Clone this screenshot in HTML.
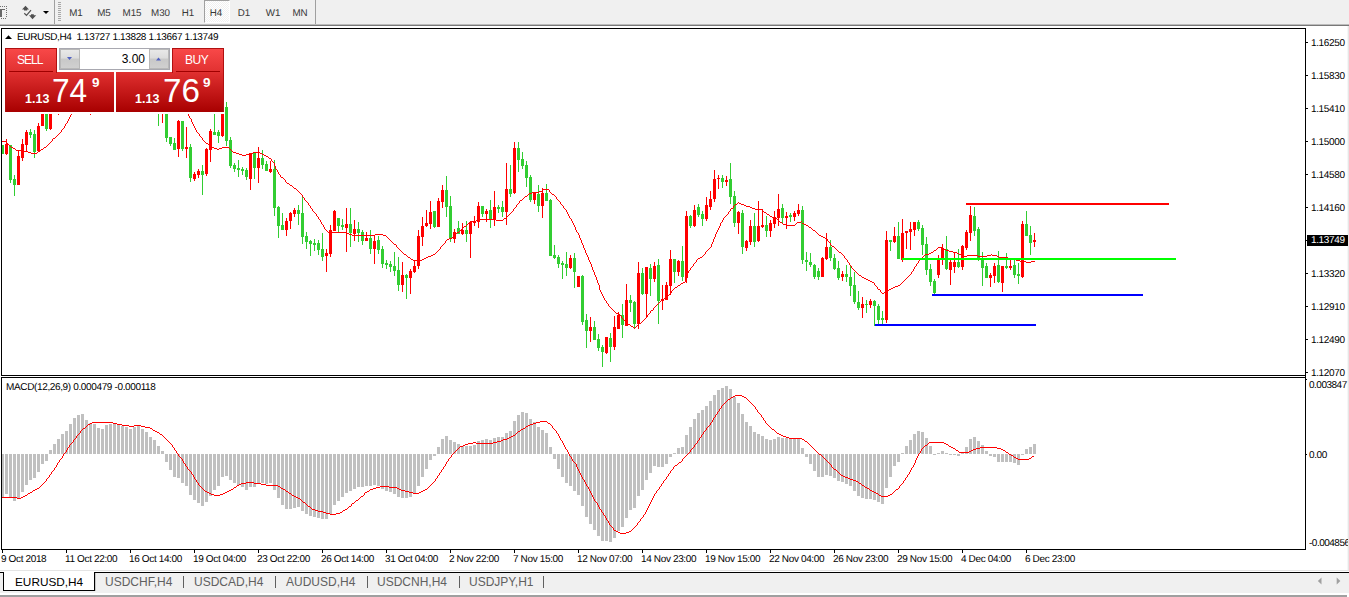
<!DOCTYPE html>
<html><head><meta charset="utf-8"><title>EURUSD,H4</title>
<style>
html,body{margin:0;padding:0;background:#fff;}
body{width:1349px;height:597px;overflow:hidden;position:relative;font-family:"Liberation Sans",sans-serif;font-size:10px;letter-spacing:-0.36px;text-rendering:geometricPrecision;color:#000;}
div{position:absolute;box-sizing:border-box;}
#tb{left:0;top:0;width:1349px;height:24px;background:#f0f0f0;}
#tbl{left:0;top:24px;width:1349px;height:2px;background:linear-gradient(#bcbcbc 50%,#787878 50%);}
.tf{text-rendering:geometricPrecision;letter-spacing:-0.1px;top:8px;height:11px;width:28px;text-align:center;font-size:9.8px;line-height:11px;color:#383838;}
#h4{left:204px;top:0;width:26px;height:23px;background:conic-gradient(#fff 25%,#f0f0f0 0 50%,#fff 0 75%,#f0f0f0 0) 0 0/2px 2px;border-left:1px solid #a0a0a0;border-top:1px solid #a0a0a0;border-right:1px solid #fff;border-bottom:1px solid #fff;}
.vs{top:0;width:1px;height:24px;background:#a0a0a0;}
#chart{left:1px;top:28px;width:1305px;height:348px;border:1px solid #000;border-right:none;}
#macd{left:1px;top:377px;width:1305px;height:173px;border:1px solid #000;border-right:none;}
#axis{left:1305px;top:28px;width:1px;height:522px;background:#000;}
#redge{left:1347px;top:26px;width:2px;height:545px;background:linear-gradient(90deg,#f6f6f6 50%,#e6e6e6 50%);}
.tt{top:550px;width:1px;height:3px;background:#000;}
.tl{top:554px;height:11px;line-height:11px;white-space:nowrap;}
.pt{left:1306px;width:2px;height:1px;background:#000;}
.pl{left:1311px;height:11px;line-height:11px;white-space:nowrap;}
#cur{left:1307px;top:235px;width:41px;height:11px;background:#000;color:#fff;line-height:11px;padding-left:4px;}
#hdr{left:17px;top:32px;height:11px;line-height:11px;white-space:pre;}
#mh{left:6px;top:382px;height:11px;line-height:11px;white-space:pre;}
svg{position:absolute;left:0;top:0;}
#tabs{left:0;top:571px;width:1349px;height:26px;background:#fff;}
#tabbg{left:0;top:573px;width:1349px;height:20px;background:#f0f0f0;}
#tabline{left:94px;top:572px;width:1255px;height:1px;background:#000;}
#tabtop{left:0;top:570px;width:1349px;height:1px;background:#e4e4e4;}
#atab{left:3px;top:572px;width:92px;height:19px;background:#fff;border:1px solid #000;border-top:none;}
.tab{text-rendering:auto;letter-spacing:0;top:574px;height:16px;line-height:16px;font-size:12px;color:#606060;white-space:nowrap;}
.tsep{top:576px;width:1px;height:12px;background:#606060;}
#bot{left:0;top:595px;width:1347px;height:2px;background:#a0a0a0;}
/* trade panel */
#sellt{left:5px;top:48px;width:52px;height:25px;background:linear-gradient(#f84848,#e03030);border:1px solid #b01010;border-bottom:none;}
#buyt{left:172px;top:48px;width:52px;height:25px;background:linear-gradient(#f84848,#e03030);border:1px solid #b01010;border-bottom:none;}
#sellb{left:5px;top:72px;width:109px;height:40px;background:linear-gradient(#e03030,#a80000);border-left:1px solid #b01010;}
#buyb{left:116px;top:72px;width:108px;height:40px;background:linear-gradient(#e03030,#a80000);border-right:1px solid #b01010;}
.pw{background:#fff;}
.btxt{text-rendering:auto;letter-spacing:0;color:#fff;font-size:12px;line-height:14px;height:14px;white-space:nowrap;}
.ul{height:1px;background:#a00000;top:71px;}
#spin{left:59px;top:48px;width:111px;height:22px;background:#fff;border:1px solid #a8a8b0;}
.sb{top:49px;width:20px;height:20px;background:linear-gradient(#e8e8e8 0%,#dcdcdc 45%,#c8c8c8 50%,#d0d0d0 100%);border:1px solid #b8b8b8;}
.sm{text-rendering:auto;letter-spacing:0;color:#fff;font-weight:bold;font-size:12.5px;line-height:12px;height:12px;}
.big{text-rendering:auto;letter-spacing:0;color:#fff;font-size:34px;line-height:34px;height:34px;transform-origin:0 0;transform:scaleX(0.93);}
.sup{text-rendering:auto;letter-spacing:0;color:#fff;font-weight:bold;font-size:13.5px;line-height:12px;height:12px;}
</style></head><body>
<div id="tb"></div><div id="tbl"></div>
<svg width="64" height="24" viewBox="0 0 64 24" shape-rendering="crispEdges">
<rect x="0" y="9" width="5" height="1" fill="#686868"/><rect x="0" y="9" width="2" height="8" fill="#686868"/>
<g fill="#707070"><rect x="0" y="6" width="1" height="1"/><rect x="2" y="6" width="1" height="1"/><rect x="4" y="6" width="1" height="1"/><rect x="6" y="6" width="1" height="1"/>
<rect x="6" y="8" width="1" height="1"/><rect x="6" y="10" width="1" height="1"/><rect x="6" y="12" width="1" height="1"/><rect x="6" y="14" width="1" height="1"/><rect x="6" y="16" width="1" height="1"/>
<rect x="1" y="18" width="1" height="1"/><rect x="3" y="18" width="1" height="1"/><rect x="5" y="18" width="1" height="1"/></g>
<g shape-rendering="auto"><path d="M25.5 5.8 L29 9.5 L27.2 9.5 L27.2 10.5 L24 10.5 L24 9.5 L22 9.5 Z" fill="#505050"/><path d="M32.5 19.2 L36.2 15.3 L33.8 15.3 L33.8 14.3 L31 14.3 L31 15.3 L29 15.3 Z" fill="#505050"/><path d="M24.3 13.3 L26.5 15.4 L31 10.2" stroke="#505050" stroke-width="1.2" fill="none"/></g>
<path d="M43 11 L49 11 L46 14 Z" fill="#000" shape-rendering="auto"/>
<g fill="#a8a8a8"><rect x="58" y="2" width="3" height="1"/><rect x="58" y="4" width="3" height="1"/><rect x="58" y="6" width="3" height="1"/><rect x="58" y="8" width="3" height="1"/><rect x="58" y="10" width="3" height="1"/><rect x="58" y="12" width="3" height="1"/><rect x="58" y="14" width="3" height="1"/><rect x="58" y="16" width="3" height="1"/><rect x="58" y="18" width="3" height="1"/><rect x="58" y="20" width="3" height="1"/></g>
</svg>
<div class="vs" style="left:54px"></div><div class="vs" style="left:315px"></div>
<div id="h4"></div>
<div class="tf" style="left:62px">M1</div><div class="tf" style="left:90px">M5</div><div class="tf" style="left:118px">M15</div><div class="tf" style="left:146.5px">M30</div><div class="tf" style="left:174px">H1</div><div class="tf" style="left:202px">H4</div><div class="tf" style="left:230px">D1</div><div class="tf" style="left:259px">W1</div><div class="tf" style="left:286px">MN</div>

<div id="redge"></div>
<svg width="1349" height="597" viewBox="0 0 1349 597" shape-rendering="crispEdges">
<g id="candles">
<rect x="2" y="145" width="1" height="9" fill="#32cd32"/>
<rect x="1" y="145" width="3" height="9" fill="#32cd32"/>
<rect x="6" y="139" width="1" height="16" fill="#ff0000"/>
<rect x="5" y="144" width="3" height="10" fill="#ff0000"/>
<rect x="10" y="145" width="1" height="38" fill="#32cd32"/>
<rect x="9" y="145" width="3" height="35" fill="#32cd32"/>
<rect x="14" y="175" width="1" height="21" fill="#32cd32"/>
<rect x="13" y="179" width="3" height="6" fill="#32cd32"/>
<rect x="18" y="150" width="1" height="35" fill="#ff0000"/>
<rect x="17" y="156" width="3" height="29" fill="#ff0000"/>
<rect x="22" y="139" width="1" height="22" fill="#ff0000"/>
<rect x="21" y="144" width="3" height="14" fill="#ff0000"/>
<rect x="26" y="130" width="1" height="22" fill="#ff0000"/>
<rect x="25" y="132" width="3" height="13" fill="#ff0000"/>
<rect x="30" y="129" width="1" height="9" fill="#32cd32"/>
<rect x="29" y="132" width="3" height="3" fill="#32cd32"/>
<rect x="34" y="130" width="1" height="28" fill="#32cd32"/>
<rect x="33" y="134" width="3" height="18" fill="#32cd32"/>
<rect x="38" y="123" width="1" height="29" fill="#ff0000"/>
<rect x="37" y="126" width="3" height="25" fill="#ff0000"/>
<rect x="42" y="100" width="1" height="26" fill="#ff0000"/>
<rect x="41" y="100" width="3" height="26" fill="#ff0000"/>
<rect x="46" y="100" width="1" height="31" fill="#32cd32"/>
<rect x="45" y="100" width="3" height="29" fill="#32cd32"/>
<rect x="50" y="100" width="1" height="30" fill="#ff0000"/>
<rect x="49" y="100" width="3" height="29" fill="#ff0000"/>
<rect x="58" y="100" width="1" height="15" fill="#ff0000"/>
<rect x="57" y="100" width="3" height="1" fill="#ff0000"/>
<rect x="90" y="100" width="1" height="15" fill="#ff0000"/>
<rect x="89" y="100" width="3" height="1" fill="#ff0000"/>
<rect x="158" y="100" width="1" height="26" fill="#32cd32"/>
<rect x="157" y="100" width="3" height="1" fill="#32cd32"/>
<rect x="162" y="100" width="1" height="23" fill="#ff0000"/>
<rect x="161" y="100" width="3" height="1" fill="#ff0000"/>
<rect x="166" y="100" width="1" height="42" fill="#32cd32"/>
<rect x="165" y="100" width="3" height="38" fill="#32cd32"/>
<rect x="170" y="137" width="1" height="9" fill="#32cd32"/>
<rect x="169" y="137" width="3" height="7" fill="#32cd32"/>
<rect x="174" y="138" width="1" height="12" fill="#32cd32"/>
<rect x="173" y="143" width="3" height="7" fill="#32cd32"/>
<rect x="178" y="120" width="1" height="37" fill="#ff0000"/>
<rect x="177" y="121" width="3" height="28" fill="#ff0000"/>
<rect x="182" y="121" width="1" height="30" fill="#32cd32"/>
<rect x="181" y="121" width="3" height="28" fill="#32cd32"/>
<rect x="186" y="127" width="1" height="31" fill="#ff0000"/>
<rect x="185" y="147" width="3" height="2" fill="#ff0000"/>
<rect x="190" y="144" width="1" height="38" fill="#32cd32"/>
<rect x="189" y="147" width="3" height="31" fill="#32cd32"/>
<rect x="194" y="172" width="1" height="9" fill="#ff0000"/>
<rect x="193" y="174" width="3" height="5" fill="#ff0000"/>
<rect x="198" y="169" width="1" height="9" fill="#ff0000"/>
<rect x="197" y="171" width="3" height="4" fill="#ff0000"/>
<rect x="202" y="165" width="1" height="30" fill="#32cd32"/>
<rect x="201" y="171" width="3" height="4" fill="#32cd32"/>
<rect x="206" y="148" width="1" height="28" fill="#ff0000"/>
<rect x="205" y="149" width="3" height="25" fill="#ff0000"/>
<rect x="210" y="129" width="1" height="33" fill="#ff0000"/>
<rect x="209" y="131" width="3" height="19" fill="#ff0000"/>
<rect x="214" y="114" width="1" height="21" fill="#32cd32"/>
<rect x="213" y="132" width="3" height="3" fill="#32cd32"/>
<rect x="218" y="130" width="1" height="13" fill="#32cd32"/>
<rect x="217" y="132" width="3" height="4" fill="#32cd32"/>
<rect x="222" y="100" width="1" height="37" fill="#ff0000"/>
<rect x="221" y="100" width="3" height="36" fill="#ff0000"/>
<rect x="226" y="102" width="1" height="44" fill="#32cd32"/>
<rect x="225" y="107" width="3" height="34" fill="#32cd32"/>
<rect x="230" y="137" width="1" height="31" fill="#32cd32"/>
<rect x="229" y="140" width="3" height="26" fill="#32cd32"/>
<rect x="234" y="163" width="1" height="9" fill="#32cd32"/>
<rect x="233" y="165" width="3" height="4" fill="#32cd32"/>
<rect x="238" y="160" width="1" height="17" fill="#32cd32"/>
<rect x="237" y="168" width="3" height="2" fill="#32cd32"/>
<rect x="242" y="167" width="1" height="8" fill="#32cd32"/>
<rect x="241" y="169" width="3" height="2" fill="#32cd32"/>
<rect x="246" y="168" width="1" height="12" fill="#32cd32"/>
<rect x="245" y="170" width="3" height="7" fill="#32cd32"/>
<rect x="250" y="153" width="1" height="37" fill="#ff0000"/>
<rect x="249" y="153" width="3" height="26" fill="#ff0000"/>
<rect x="254" y="153" width="1" height="26" fill="#32cd32"/>
<rect x="253" y="153" width="3" height="15" fill="#32cd32"/>
<rect x="258" y="147" width="1" height="36" fill="#ff0000"/>
<rect x="257" y="158" width="3" height="10" fill="#ff0000"/>
<rect x="262" y="150" width="1" height="19" fill="#32cd32"/>
<rect x="261" y="158" width="3" height="7" fill="#32cd32"/>
<rect x="266" y="161" width="1" height="10" fill="#32cd32"/>
<rect x="265" y="164" width="3" height="7" fill="#32cd32"/>
<rect x="270" y="161" width="1" height="12" fill="#ff0000"/>
<rect x="269" y="169" width="3" height="3" fill="#ff0000"/>
<rect x="274" y="160" width="1" height="56" fill="#32cd32"/>
<rect x="273" y="169" width="3" height="39" fill="#32cd32"/>
<rect x="278" y="206" width="1" height="32" fill="#32cd32"/>
<rect x="277" y="207" width="3" height="19" fill="#32cd32"/>
<rect x="282" y="213" width="1" height="17" fill="#32cd32"/>
<rect x="281" y="225" width="3" height="5" fill="#32cd32"/>
<rect x="286" y="218" width="1" height="18" fill="#ff0000"/>
<rect x="285" y="221" width="3" height="9" fill="#ff0000"/>
<rect x="290" y="212" width="1" height="17" fill="#ff0000"/>
<rect x="289" y="213" width="3" height="8" fill="#ff0000"/>
<rect x="294" y="208" width="1" height="9" fill="#ff0000"/>
<rect x="293" y="210" width="3" height="4" fill="#ff0000"/>
<rect x="298" y="205" width="1" height="20" fill="#32cd32"/>
<rect x="297" y="210" width="3" height="4" fill="#32cd32"/>
<rect x="302" y="196" width="1" height="48" fill="#32cd32"/>
<rect x="301" y="213" width="3" height="24" fill="#32cd32"/>
<rect x="306" y="232" width="1" height="17" fill="#32cd32"/>
<rect x="305" y="236" width="3" height="6" fill="#32cd32"/>
<rect x="310" y="240" width="1" height="16" fill="#32cd32"/>
<rect x="309" y="241" width="3" height="3" fill="#32cd32"/>
<rect x="314" y="239" width="1" height="12" fill="#32cd32"/>
<rect x="313" y="243" width="3" height="2" fill="#32cd32"/>
<rect x="318" y="240" width="1" height="15" fill="#32cd32"/>
<rect x="317" y="243" width="3" height="7" fill="#32cd32"/>
<rect x="322" y="233" width="1" height="28" fill="#32cd32"/>
<rect x="321" y="249" width="3" height="8" fill="#32cd32"/>
<rect x="326" y="249" width="1" height="23" fill="#ff0000"/>
<rect x="325" y="253" width="3" height="3" fill="#ff0000"/>
<rect x="330" y="225" width="1" height="32" fill="#ff0000"/>
<rect x="329" y="230" width="3" height="24" fill="#ff0000"/>
<rect x="334" y="210" width="1" height="21" fill="#ff0000"/>
<rect x="333" y="211" width="3" height="20" fill="#ff0000"/>
<rect x="338" y="218" width="1" height="14" fill="#32cd32"/>
<rect x="337" y="218" width="3" height="8" fill="#32cd32"/>
<rect x="342" y="219" width="1" height="11" fill="#32cd32"/>
<rect x="341" y="225" width="3" height="2" fill="#32cd32"/>
<rect x="346" y="208" width="1" height="44" fill="#ff0000"/>
<rect x="345" y="224" width="3" height="4" fill="#ff0000"/>
<rect x="350" y="208" width="1" height="39" fill="#32cd32"/>
<rect x="349" y="224" width="3" height="9" fill="#32cd32"/>
<rect x="354" y="220" width="1" height="21" fill="#ff0000"/>
<rect x="353" y="229" width="3" height="5" fill="#ff0000"/>
<rect x="358" y="222" width="1" height="20" fill="#32cd32"/>
<rect x="357" y="229" width="3" height="4" fill="#32cd32"/>
<rect x="362" y="230" width="1" height="15" fill="#32cd32"/>
<rect x="361" y="232" width="3" height="9" fill="#32cd32"/>
<rect x="366" y="232" width="1" height="9" fill="#ff0000"/>
<rect x="365" y="238" width="3" height="3" fill="#ff0000"/>
<rect x="370" y="230" width="1" height="24" fill="#32cd32"/>
<rect x="369" y="238" width="3" height="11" fill="#32cd32"/>
<rect x="374" y="235" width="1" height="29" fill="#ff0000"/>
<rect x="373" y="241" width="3" height="8" fill="#ff0000"/>
<rect x="378" y="236" width="1" height="18" fill="#32cd32"/>
<rect x="377" y="240" width="3" height="10" fill="#32cd32"/>
<rect x="382" y="246" width="1" height="22" fill="#32cd32"/>
<rect x="381" y="249" width="3" height="15" fill="#32cd32"/>
<rect x="386" y="260" width="1" height="9" fill="#32cd32"/>
<rect x="385" y="263" width="3" height="2" fill="#32cd32"/>
<rect x="390" y="261" width="1" height="11" fill="#32cd32"/>
<rect x="389" y="264" width="3" height="3" fill="#32cd32"/>
<rect x="394" y="252" width="1" height="24" fill="#32cd32"/>
<rect x="393" y="266" width="3" height="5" fill="#32cd32"/>
<rect x="398" y="257" width="1" height="34" fill="#32cd32"/>
<rect x="397" y="270" width="3" height="15" fill="#32cd32"/>
<rect x="402" y="262" width="1" height="30" fill="#ff0000"/>
<rect x="401" y="275" width="3" height="10" fill="#ff0000"/>
<rect x="406" y="274" width="1" height="25" fill="#32cd32"/>
<rect x="405" y="275" width="3" height="3" fill="#32cd32"/>
<rect x="410" y="269" width="1" height="25" fill="#ff0000"/>
<rect x="409" y="271" width="3" height="7" fill="#ff0000"/>
<rect x="414" y="261" width="1" height="12" fill="#ff0000"/>
<rect x="413" y="266" width="3" height="6" fill="#ff0000"/>
<rect x="418" y="230" width="1" height="39" fill="#ff0000"/>
<rect x="417" y="236" width="3" height="30" fill="#ff0000"/>
<rect x="422" y="217" width="1" height="29" fill="#ff0000"/>
<rect x="421" y="226" width="3" height="11" fill="#ff0000"/>
<rect x="426" y="210" width="1" height="17" fill="#ff0000"/>
<rect x="425" y="223" width="3" height="3" fill="#ff0000"/>
<rect x="430" y="201" width="1" height="28" fill="#ff0000"/>
<rect x="429" y="212" width="3" height="12" fill="#ff0000"/>
<rect x="434" y="211" width="1" height="17" fill="#32cd32"/>
<rect x="433" y="211" width="3" height="16" fill="#32cd32"/>
<rect x="438" y="198" width="1" height="29" fill="#ff0000"/>
<rect x="437" y="201" width="3" height="26" fill="#ff0000"/>
<rect x="442" y="185" width="1" height="23" fill="#ff0000"/>
<rect x="441" y="190" width="3" height="12" fill="#ff0000"/>
<rect x="446" y="176" width="1" height="41" fill="#32cd32"/>
<rect x="445" y="190" width="3" height="17" fill="#32cd32"/>
<rect x="450" y="196" width="1" height="46" fill="#32cd32"/>
<rect x="449" y="206" width="3" height="33" fill="#32cd32"/>
<rect x="454" y="229" width="1" height="14" fill="#ff0000"/>
<rect x="453" y="232" width="3" height="7" fill="#ff0000"/>
<rect x="458" y="221" width="1" height="13" fill="#32cd32"/>
<rect x="457" y="228" width="3" height="6" fill="#32cd32"/>
<rect x="462" y="223" width="1" height="12" fill="#ff0000"/>
<rect x="461" y="230" width="3" height="4" fill="#ff0000"/>
<rect x="466" y="221" width="1" height="21" fill="#32cd32"/>
<rect x="465" y="230" width="3" height="4" fill="#32cd32"/>
<rect x="470" y="221" width="1" height="37" fill="#ff0000"/>
<rect x="469" y="222" width="3" height="12" fill="#ff0000"/>
<rect x="474" y="216" width="1" height="10" fill="#ff0000"/>
<rect x="473" y="221" width="3" height="2" fill="#ff0000"/>
<rect x="478" y="202" width="1" height="26" fill="#ff0000"/>
<rect x="477" y="206" width="3" height="16" fill="#ff0000"/>
<rect x="482" y="206" width="1" height="11" fill="#32cd32"/>
<rect x="481" y="206" width="3" height="8" fill="#32cd32"/>
<rect x="486" y="209" width="1" height="13" fill="#ff0000"/>
<rect x="485" y="211" width="3" height="3" fill="#ff0000"/>
<rect x="490" y="200" width="1" height="28" fill="#32cd32"/>
<rect x="489" y="210" width="3" height="10" fill="#32cd32"/>
<rect x="494" y="191" width="1" height="35" fill="#ff0000"/>
<rect x="493" y="207" width="3" height="13" fill="#ff0000"/>
<rect x="498" y="205" width="1" height="8" fill="#32cd32"/>
<rect x="497" y="207" width="3" height="2" fill="#32cd32"/>
<rect x="502" y="201" width="1" height="16" fill="#32cd32"/>
<rect x="501" y="207" width="3" height="5" fill="#32cd32"/>
<rect x="506" y="163" width="1" height="62" fill="#ff0000"/>
<rect x="505" y="189" width="3" height="23" fill="#ff0000"/>
<rect x="510" y="165" width="1" height="32" fill="#32cd32"/>
<rect x="509" y="189" width="3" height="5" fill="#32cd32"/>
<rect x="514" y="142" width="1" height="52" fill="#ff0000"/>
<rect x="513" y="148" width="3" height="45" fill="#ff0000"/>
<rect x="518" y="142" width="1" height="30" fill="#32cd32"/>
<rect x="517" y="148" width="3" height="12" fill="#32cd32"/>
<rect x="522" y="152" width="1" height="17" fill="#32cd32"/>
<rect x="521" y="159" width="3" height="7" fill="#32cd32"/>
<rect x="526" y="161" width="1" height="26" fill="#32cd32"/>
<rect x="525" y="165" width="3" height="13" fill="#32cd32"/>
<rect x="530" y="175" width="1" height="27" fill="#32cd32"/>
<rect x="529" y="177" width="3" height="23" fill="#32cd32"/>
<rect x="534" y="192" width="1" height="12" fill="#ff0000"/>
<rect x="533" y="193" width="3" height="7" fill="#ff0000"/>
<rect x="538" y="185" width="1" height="27" fill="#32cd32"/>
<rect x="537" y="194" width="3" height="12" fill="#32cd32"/>
<rect x="542" y="188" width="1" height="30" fill="#ff0000"/>
<rect x="541" y="193" width="3" height="13" fill="#ff0000"/>
<rect x="546" y="184" width="1" height="17" fill="#32cd32"/>
<rect x="545" y="193" width="3" height="8" fill="#32cd32"/>
<rect x="550" y="199" width="1" height="57" fill="#32cd32"/>
<rect x="549" y="200" width="3" height="56" fill="#32cd32"/>
<rect x="554" y="245" width="1" height="14" fill="#32cd32"/>
<rect x="553" y="255" width="3" height="3" fill="#32cd32"/>
<rect x="558" y="255" width="1" height="13" fill="#32cd32"/>
<rect x="557" y="257" width="3" height="7" fill="#32cd32"/>
<rect x="562" y="261" width="1" height="18" fill="#32cd32"/>
<rect x="561" y="263" width="3" height="2" fill="#32cd32"/>
<rect x="566" y="252" width="1" height="24" fill="#32cd32"/>
<rect x="565" y="264" width="3" height="4" fill="#32cd32"/>
<rect x="570" y="255" width="1" height="14" fill="#ff0000"/>
<rect x="569" y="258" width="3" height="10" fill="#ff0000"/>
<rect x="574" y="253" width="1" height="35" fill="#32cd32"/>
<rect x="573" y="258" width="3" height="14" fill="#32cd32"/>
<rect x="578" y="276" width="1" height="11" fill="#ff0000"/>
<rect x="577" y="276" width="3" height="11" fill="#ff0000"/>
<rect x="582" y="275" width="1" height="50" fill="#32cd32"/>
<rect x="581" y="276" width="3" height="46" fill="#32cd32"/>
<rect x="586" y="314" width="1" height="34" fill="#32cd32"/>
<rect x="585" y="320" width="3" height="11" fill="#32cd32"/>
<rect x="590" y="317" width="1" height="25" fill="#ff0000"/>
<rect x="589" y="327" width="3" height="4" fill="#ff0000"/>
<rect x="594" y="321" width="1" height="19" fill="#32cd32"/>
<rect x="593" y="327" width="3" height="13" fill="#32cd32"/>
<rect x="598" y="334" width="1" height="17" fill="#32cd32"/>
<rect x="597" y="339" width="3" height="9" fill="#32cd32"/>
<rect x="602" y="345" width="1" height="22" fill="#32cd32"/>
<rect x="601" y="347" width="3" height="5" fill="#32cd32"/>
<rect x="606" y="337" width="1" height="17" fill="#ff0000"/>
<rect x="605" y="337" width="3" height="16" fill="#ff0000"/>
<rect x="610" y="333" width="1" height="29" fill="#32cd32"/>
<rect x="609" y="338" width="3" height="9" fill="#32cd32"/>
<rect x="614" y="316" width="1" height="34" fill="#ff0000"/>
<rect x="613" y="327" width="3" height="20" fill="#ff0000"/>
<rect x="618" y="312" width="1" height="17" fill="#ff0000"/>
<rect x="617" y="315" width="3" height="14" fill="#ff0000"/>
<rect x="622" y="304" width="1" height="34" fill="#32cd32"/>
<rect x="621" y="315" width="3" height="10" fill="#32cd32"/>
<rect x="626" y="284" width="1" height="42" fill="#ff0000"/>
<rect x="625" y="300" width="3" height="26" fill="#ff0000"/>
<rect x="630" y="295" width="1" height="17" fill="#32cd32"/>
<rect x="629" y="300" width="3" height="3" fill="#32cd32"/>
<rect x="634" y="301" width="1" height="27" fill="#32cd32"/>
<rect x="633" y="302" width="3" height="22" fill="#32cd32"/>
<rect x="638" y="262" width="1" height="67" fill="#ff0000"/>
<rect x="637" y="273" width="3" height="51" fill="#ff0000"/>
<rect x="642" y="268" width="1" height="27" fill="#32cd32"/>
<rect x="641" y="273" width="3" height="21" fill="#32cd32"/>
<rect x="646" y="267" width="1" height="51" fill="#ff0000"/>
<rect x="645" y="267" width="3" height="27" fill="#ff0000"/>
<rect x="650" y="264" width="1" height="32" fill="#32cd32"/>
<rect x="649" y="268" width="3" height="11" fill="#32cd32"/>
<rect x="654" y="262" width="1" height="20" fill="#ff0000"/>
<rect x="653" y="266" width="3" height="13" fill="#ff0000"/>
<rect x="658" y="259" width="1" height="65" fill="#32cd32"/>
<rect x="657" y="265" width="3" height="36" fill="#32cd32"/>
<rect x="662" y="285" width="1" height="25" fill="#ff0000"/>
<rect x="661" y="299" width="3" height="2" fill="#ff0000"/>
<rect x="666" y="282" width="1" height="18" fill="#ff0000"/>
<rect x="665" y="285" width="3" height="15" fill="#ff0000"/>
<rect x="670" y="250" width="1" height="45" fill="#ff0000"/>
<rect x="669" y="259" width="3" height="27" fill="#ff0000"/>
<rect x="674" y="259" width="1" height="24" fill="#32cd32"/>
<rect x="673" y="259" width="3" height="13" fill="#32cd32"/>
<rect x="678" y="260" width="1" height="16" fill="#ff0000"/>
<rect x="677" y="261" width="3" height="11" fill="#ff0000"/>
<rect x="682" y="246" width="1" height="35" fill="#32cd32"/>
<rect x="681" y="261" width="3" height="16" fill="#32cd32"/>
<rect x="686" y="211" width="1" height="72" fill="#ff0000"/>
<rect x="685" y="216" width="3" height="62" fill="#ff0000"/>
<rect x="690" y="215" width="1" height="13" fill="#32cd32"/>
<rect x="689" y="216" width="3" height="10" fill="#32cd32"/>
<rect x="694" y="205" width="1" height="22" fill="#ff0000"/>
<rect x="693" y="210" width="3" height="16" fill="#ff0000"/>
<rect x="698" y="204" width="1" height="13" fill="#32cd32"/>
<rect x="697" y="207" width="3" height="8" fill="#32cd32"/>
<rect x="702" y="211" width="1" height="15" fill="#32cd32"/>
<rect x="701" y="214" width="3" height="5" fill="#32cd32"/>
<rect x="706" y="197" width="1" height="24" fill="#ff0000"/>
<rect x="705" y="205" width="3" height="14" fill="#ff0000"/>
<rect x="710" y="191" width="1" height="19" fill="#ff0000"/>
<rect x="709" y="199" width="3" height="8" fill="#ff0000"/>
<rect x="714" y="170" width="1" height="32" fill="#ff0000"/>
<rect x="713" y="179" width="3" height="20" fill="#ff0000"/>
<rect x="718" y="175" width="1" height="14" fill="#ff0000"/>
<rect x="717" y="178" width="3" height="1" fill="#ff0000"/>
<rect x="722" y="175" width="1" height="13" fill="#32cd32"/>
<rect x="721" y="178" width="3" height="4" fill="#32cd32"/>
<rect x="726" y="176" width="1" height="10" fill="#ff0000"/>
<rect x="725" y="180" width="3" height="2" fill="#ff0000"/>
<rect x="730" y="163" width="1" height="41" fill="#32cd32"/>
<rect x="729" y="179" width="3" height="18" fill="#32cd32"/>
<rect x="734" y="191" width="1" height="36" fill="#32cd32"/>
<rect x="733" y="196" width="3" height="27" fill="#32cd32"/>
<rect x="738" y="211" width="1" height="23" fill="#ff0000"/>
<rect x="737" y="212" width="3" height="11" fill="#ff0000"/>
<rect x="742" y="210" width="1" height="44" fill="#32cd32"/>
<rect x="741" y="213" width="3" height="34" fill="#32cd32"/>
<rect x="746" y="240" width="1" height="11" fill="#ff0000"/>
<rect x="745" y="241" width="3" height="7" fill="#ff0000"/>
<rect x="750" y="220" width="1" height="25" fill="#ff0000"/>
<rect x="749" y="226" width="3" height="16" fill="#ff0000"/>
<rect x="754" y="213" width="1" height="34" fill="#32cd32"/>
<rect x="753" y="226" width="3" height="16" fill="#32cd32"/>
<rect x="758" y="201" width="1" height="41" fill="#ff0000"/>
<rect x="757" y="226" width="3" height="15" fill="#ff0000"/>
<rect x="762" y="209" width="1" height="19" fill="#ff0000"/>
<rect x="761" y="225" width="3" height="2" fill="#ff0000"/>
<rect x="766" y="216" width="1" height="21" fill="#32cd32"/>
<rect x="765" y="225" width="3" height="6" fill="#32cd32"/>
<rect x="770" y="220" width="1" height="17" fill="#ff0000"/>
<rect x="769" y="223" width="3" height="8" fill="#ff0000"/>
<rect x="774" y="211" width="1" height="17" fill="#ff0000"/>
<rect x="773" y="217" width="3" height="7" fill="#ff0000"/>
<rect x="778" y="194" width="1" height="32" fill="#ff0000"/>
<rect x="777" y="209" width="3" height="9" fill="#ff0000"/>
<rect x="782" y="204" width="1" height="19" fill="#32cd32"/>
<rect x="781" y="208" width="3" height="10" fill="#32cd32"/>
<rect x="786" y="212" width="1" height="17" fill="#ff0000"/>
<rect x="785" y="216" width="3" height="2" fill="#ff0000"/>
<rect x="790" y="213" width="1" height="9" fill="#32cd32"/>
<rect x="789" y="215" width="3" height="2" fill="#32cd32"/>
<rect x="794" y="211" width="1" height="10" fill="#ff0000"/>
<rect x="793" y="213" width="3" height="4" fill="#ff0000"/>
<rect x="798" y="204" width="1" height="12" fill="#ff0000"/>
<rect x="797" y="210" width="3" height="4" fill="#ff0000"/>
<rect x="802" y="206" width="1" height="58" fill="#32cd32"/>
<rect x="801" y="210" width="3" height="50" fill="#32cd32"/>
<rect x="806" y="252" width="1" height="19" fill="#32cd32"/>
<rect x="805" y="260" width="3" height="2" fill="#32cd32"/>
<rect x="810" y="253" width="1" height="14" fill="#32cd32"/>
<rect x="809" y="262" width="3" height="3" fill="#32cd32"/>
<rect x="814" y="264" width="1" height="15" fill="#32cd32"/>
<rect x="813" y="265" width="3" height="12" fill="#32cd32"/>
<rect x="818" y="268" width="1" height="12" fill="#32cd32"/>
<rect x="817" y="271" width="3" height="6" fill="#32cd32"/>
<rect x="822" y="257" width="1" height="20" fill="#ff0000"/>
<rect x="821" y="258" width="3" height="19" fill="#ff0000"/>
<rect x="826" y="233" width="1" height="27" fill="#ff0000"/>
<rect x="825" y="247" width="3" height="12" fill="#ff0000"/>
<rect x="830" y="240" width="1" height="21" fill="#32cd32"/>
<rect x="829" y="247" width="3" height="11" fill="#32cd32"/>
<rect x="834" y="254" width="1" height="16" fill="#32cd32"/>
<rect x="833" y="258" width="3" height="11" fill="#32cd32"/>
<rect x="838" y="261" width="1" height="19" fill="#32cd32"/>
<rect x="837" y="268" width="3" height="10" fill="#32cd32"/>
<rect x="842" y="271" width="1" height="10" fill="#ff0000"/>
<rect x="841" y="274" width="3" height="3" fill="#ff0000"/>
<rect x="846" y="265" width="1" height="17" fill="#32cd32"/>
<rect x="845" y="274" width="3" height="3" fill="#32cd32"/>
<rect x="850" y="266" width="1" height="30" fill="#32cd32"/>
<rect x="849" y="277" width="3" height="9" fill="#32cd32"/>
<rect x="854" y="272" width="1" height="32" fill="#32cd32"/>
<rect x="853" y="285" width="3" height="17" fill="#32cd32"/>
<rect x="858" y="291" width="1" height="19" fill="#32cd32"/>
<rect x="857" y="302" width="3" height="6" fill="#32cd32"/>
<rect x="862" y="297" width="1" height="21" fill="#ff0000"/>
<rect x="861" y="304" width="3" height="4" fill="#ff0000"/>
<rect x="866" y="300" width="1" height="13" fill="#32cd32"/>
<rect x="865" y="304" width="3" height="1" fill="#32cd32"/>
<rect x="870" y="299" width="1" height="9" fill="#ff0000"/>
<rect x="869" y="301" width="3" height="4" fill="#ff0000"/>
<rect x="874" y="300" width="1" height="26" fill="#32cd32"/>
<rect x="873" y="301" width="3" height="5" fill="#32cd32"/>
<rect x="878" y="304" width="1" height="20" fill="#32cd32"/>
<rect x="877" y="306" width="3" height="14" fill="#32cd32"/>
<rect x="882" y="311" width="1" height="13" fill="#32cd32"/>
<rect x="881" y="318" width="3" height="2" fill="#32cd32"/>
<rect x="886" y="231" width="1" height="92" fill="#ff0000"/>
<rect x="885" y="240" width="3" height="80" fill="#ff0000"/>
<rect x="890" y="240" width="1" height="11" fill="#32cd32"/>
<rect x="889" y="240" width="3" height="2" fill="#32cd32"/>
<rect x="894" y="227" width="1" height="16" fill="#ff0000"/>
<rect x="893" y="236" width="3" height="6" fill="#ff0000"/>
<rect x="898" y="222" width="1" height="37" fill="#32cd32"/>
<rect x="897" y="236" width="3" height="23" fill="#32cd32"/>
<rect x="902" y="219" width="1" height="43" fill="#ff0000"/>
<rect x="901" y="233" width="3" height="27" fill="#ff0000"/>
<rect x="906" y="231" width="1" height="18" fill="#ff0000"/>
<rect x="905" y="231" width="3" height="2" fill="#ff0000"/>
<rect x="910" y="222" width="1" height="28" fill="#ff0000"/>
<rect x="909" y="229" width="3" height="3" fill="#ff0000"/>
<rect x="914" y="222" width="1" height="14" fill="#ff0000"/>
<rect x="913" y="222" width="3" height="8" fill="#ff0000"/>
<rect x="918" y="220" width="1" height="11" fill="#32cd32"/>
<rect x="917" y="222" width="3" height="7" fill="#32cd32"/>
<rect x="922" y="225" width="1" height="30" fill="#32cd32"/>
<rect x="921" y="228" width="3" height="17" fill="#32cd32"/>
<rect x="926" y="237" width="1" height="38" fill="#32cd32"/>
<rect x="925" y="244" width="3" height="26" fill="#32cd32"/>
<rect x="930" y="264" width="1" height="22" fill="#32cd32"/>
<rect x="929" y="269" width="3" height="13" fill="#32cd32"/>
<rect x="934" y="279" width="1" height="15" fill="#32cd32"/>
<rect x="933" y="281" width="3" height="12" fill="#32cd32"/>
<rect x="938" y="255" width="1" height="23" fill="#ff0000"/>
<rect x="937" y="260" width="3" height="15" fill="#ff0000"/>
<rect x="942" y="244" width="1" height="21" fill="#ff0000"/>
<rect x="941" y="248" width="3" height="12" fill="#ff0000"/>
<rect x="946" y="236" width="1" height="34" fill="#32cd32"/>
<rect x="945" y="249" width="3" height="20" fill="#32cd32"/>
<rect x="950" y="260" width="1" height="25" fill="#ff0000"/>
<rect x="949" y="262" width="3" height="8" fill="#ff0000"/>
<rect x="954" y="252" width="1" height="21" fill="#ff0000"/>
<rect x="953" y="262" width="3" height="5" fill="#ff0000"/>
<rect x="958" y="249" width="1" height="19" fill="#32cd32"/>
<rect x="957" y="262" width="3" height="5" fill="#32cd32"/>
<rect x="962" y="245" width="1" height="25" fill="#ff0000"/>
<rect x="961" y="246" width="3" height="21" fill="#ff0000"/>
<rect x="966" y="230" width="1" height="20" fill="#ff0000"/>
<rect x="965" y="232" width="3" height="16" fill="#ff0000"/>
<rect x="970" y="206" width="1" height="35" fill="#ff0000"/>
<rect x="969" y="215" width="3" height="18" fill="#ff0000"/>
<rect x="974" y="207" width="1" height="29" fill="#32cd32"/>
<rect x="973" y="216" width="3" height="15" fill="#32cd32"/>
<rect x="978" y="227" width="1" height="34" fill="#32cd32"/>
<rect x="977" y="229" width="3" height="31" fill="#32cd32"/>
<rect x="982" y="252" width="1" height="34" fill="#32cd32"/>
<rect x="981" y="260" width="3" height="8" fill="#32cd32"/>
<rect x="986" y="263" width="1" height="15" fill="#32cd32"/>
<rect x="985" y="266" width="3" height="12" fill="#32cd32"/>
<rect x="990" y="273" width="1" height="14" fill="#ff0000"/>
<rect x="989" y="275" width="3" height="3" fill="#ff0000"/>
<rect x="994" y="263" width="1" height="20" fill="#ff0000"/>
<rect x="993" y="266" width="3" height="10" fill="#ff0000"/>
<rect x="998" y="251" width="1" height="32" fill="#32cd32"/>
<rect x="997" y="265" width="3" height="17" fill="#32cd32"/>
<rect x="1002" y="266" width="1" height="26" fill="#ff0000"/>
<rect x="1001" y="266" width="3" height="17" fill="#ff0000"/>
<rect x="1006" y="253" width="1" height="16" fill="#32cd32"/>
<rect x="1005" y="266" width="3" height="2" fill="#32cd32"/>
<rect x="1010" y="260" width="1" height="10" fill="#ff0000"/>
<rect x="1009" y="266" width="3" height="2" fill="#ff0000"/>
<rect x="1014" y="259" width="1" height="19" fill="#32cd32"/>
<rect x="1013" y="265" width="3" height="10" fill="#32cd32"/>
<rect x="1018" y="263" width="1" height="21" fill="#32cd32"/>
<rect x="1017" y="274" width="3" height="2" fill="#32cd32"/>
<rect x="1022" y="221" width="1" height="57" fill="#ff0000"/>
<rect x="1021" y="224" width="3" height="53" fill="#ff0000"/>
<rect x="1026" y="211" width="1" height="25" fill="#32cd32"/>
<rect x="1025" y="224" width="3" height="12" fill="#32cd32"/>
<rect x="1030" y="226" width="1" height="29" fill="#32cd32"/>
<rect x="1029" y="235" width="3" height="8" fill="#32cd32"/>
<rect x="1034" y="233" width="1" height="14" fill="#ff0000"/>
<rect x="1033" y="240" width="3" height="2" fill="#ff0000"/>
</g>
<path d="M73 110h1v1h-1zM72 111h1v1h-1zM71 112h1v1h-1zM71 113h1v1h-1zM71 114h1v1h-1zM70 115h1v1h-1zM70 116h1v1h-1zM69 117h1v1h-1zM69 118h1v1h-1zM68 119h1v1h-1zM68 120h1v1h-1zM67 121h1v1h-1zM67 122h1v1h-1zM66 123h1v1h-1zM65 124h1v1h-1zM65 125h1v1h-1zM64 126h1v1h-1zM64 127h1v1h-1zM63 128h1v1h-1zM62 129h1v1h-1zM61 130h1v1h-1zM61 131h1v1h-1zM60 132h1v1h-1zM59 133h1v1h-1zM58 134h1v1h-1zM57 135h1v1h-1zM56 136h1v1h-1zM55 137h1v1h-1zM53 138h2v1h-2zM52 139h1v1h-1zM52 140h1v1h-1zM1 141h5v1h-5zM51 141h1v1h-1zM6 142h1v1h-1zM50 142h1v1h-1zM7 143h1v1h-1zM49 143h1v1h-1zM8 144h1v1h-1zM48 144h1v1h-1zM9 145h1v1h-1zM47 145h1v1h-1zM10 146h1v1h-1zM46 146h1v1h-1zM11 147h2v1h-2zM44 147h2v1h-2zM13 148h2v1h-2zM43 148h1v1h-1zM15 149h1v1h-1zM41 149h2v1h-2zM16 150h5v1h-5zM40 150h1v1h-1zM21 151h7v1h-7zM38 151h2v1h-2zM28 152h3v1h-3zM37 152h1v1h-1zM31 153h6v1h-6z" fill="#ff0000"/>
<path d="M186 110h1v1h-1zM186 111h1v1h-1zM187 112h1v1h-1zM187 113h1v1h-1zM188 114h1v1h-1zM188 115h1v1h-1zM189 116h1v1h-1zM189 117h1v1h-1zM190 118h1v1h-1zM191 119h1v1h-1zM191 120h1v1h-1zM191 121h1v1h-1zM192 122h1v1h-1zM192 123h1v1h-1zM193 124h1v1h-1zM193 125h1v1h-1zM194 126h1v1h-1zM194 127h1v1h-1zM195 128h1v1h-1zM195 129h1v1h-1zM196 130h1v1h-1zM196 131h1v1h-1zM197 132h1v1h-1zM198 133h1v1h-1zM199 134h1v1h-1zM199 135h1v1h-1zM200 136h1v1h-1zM201 137h1v1h-1zM202 138h1v1h-1zM202 139h1v1h-1zM203 140h1v1h-1zM204 141h1v1h-1zM205 142h1v1h-1zM206 143h2v1h-2zM208 144h1v1h-1zM209 145h1v1h-1zM210 146h2v1h-2zM212 147h2v1h-2zM222 147h7v1h-7zM214 148h3v1h-3zM219 148h3v1h-3zM229 148h1v1h-1zM217 149h2v1h-2zM230 149h1v1h-1zM231 150h1v1h-1zM232 151h1v1h-1zM233 152h3v1h-3zM253 152h7v1h-7zM236 153h3v1h-3zM249 153h4v1h-4zM260 153h2v1h-2zM239 154h3v1h-3zM246 154h3v1h-3zM262 154h2v1h-2zM242 155h4v1h-4zM264 155h2v1h-2zM266 156h2v1h-2zM268 157h1v1h-1zM269 158h2v1h-2zM271 159h1v1h-1zM271 160h1v1h-1zM272 161h1v1h-1zM273 162h1v1h-1zM274 163h1v1h-1zM274 164h1v1h-1zM274 165h1v1h-1zM275 166h1v1h-1zM275 167h1v1h-1zM275 168h1v1h-1zM276 169h1v1h-1zM277 170h1v1h-1zM277 171h1v1h-1zM278 172h1v1h-1zM278 173h1v1h-1zM279 174h1v1h-1zM280 175h1v1h-1zM280 176h1v1h-1zM281 177h2v1h-2zM283 178h1v1h-1zM284 179h1v1h-1zM285 180h1v1h-1zM285 181h1v1h-1zM286 182h1v1h-1zM287 183h2v1h-2zM289 184h1v1h-1zM290 185h2v1h-2zM292 186h1v1h-1zM293 187h1v1h-1zM294 188h2v1h-2zM296 189h1v1h-1zM543 189h6v1h-6zM297 190h1v1h-1zM542 190h1v1h-1zM549 190h1v1h-1zM298 191h1v1h-1zM539 191h3v1h-3zM549 191h1v1h-1zM299 192h1v1h-1zM532 192h7v1h-7zM550 192h1v1h-1zM300 193h1v1h-1zM529 193h3v1h-3zM551 193h1v1h-1zM301 194h1v1h-1zM528 194h1v1h-1zM552 194h2v1h-2zM302 195h1v1h-1zM527 195h1v1h-1zM554 195h1v1h-1zM302 196h1v1h-1zM525 196h2v1h-2zM555 196h1v1h-1zM303 197h1v1h-1zM524 197h1v1h-1zM556 197h1v1h-1zM304 198h1v1h-1zM523 198h1v1h-1zM556 198h1v1h-1zM304 199h1v1h-1zM522 199h1v1h-1zM557 199h1v1h-1zM305 200h1v1h-1zM520 200h2v1h-2zM558 200h1v1h-1zM306 201h1v1h-1zM519 201h1v1h-1zM559 201h1v1h-1zM307 202h1v1h-1zM519 202h1v1h-1zM560 202h1v1h-1zM738 202h1v1h-1zM308 203h1v1h-1zM518 203h1v1h-1zM560 203h1v1h-1zM737 203h1v1h-1zM739 203h2v1h-2zM308 204h1v1h-1zM517 204h1v1h-1zM561 204h1v1h-1zM735 204h2v1h-2zM741 204h3v1h-3zM309 205h1v1h-1zM516 205h1v1h-1zM562 205h1v1h-1zM734 205h1v1h-1zM744 205h2v1h-2zM310 206h1v1h-1zM516 206h1v1h-1zM563 206h1v1h-1zM733 206h1v1h-1zM746 206h4v1h-4zM310 207h1v1h-1zM515 207h1v1h-1zM563 207h1v1h-1zM733 207h1v1h-1zM750 207h2v1h-2zM311 208h1v1h-1zM514 208h1v1h-1zM564 208h1v1h-1zM731 208h2v1h-2zM752 208h3v1h-3zM312 209h1v1h-1zM513 209h1v1h-1zM565 209h1v1h-1zM730 209h1v1h-1zM755 209h7v1h-7zM312 210h1v1h-1zM513 210h1v1h-1zM566 210h1v1h-1zM730 210h1v1h-1zM762 210h1v1h-1zM313 211h1v1h-1zM512 211h1v1h-1zM566 211h1v1h-1zM729 211h1v1h-1zM763 211h1v1h-1zM314 212h1v1h-1zM511 212h1v1h-1zM567 212h1v1h-1zM728 212h1v1h-1zM764 212h2v1h-2zM315 213h1v1h-1zM510 213h1v1h-1zM567 213h1v1h-1zM728 213h1v1h-1zM766 213h1v1h-1zM316 214h1v1h-1zM509 214h1v1h-1zM568 214h1v1h-1zM727 214h1v1h-1zM767 214h2v1h-2zM316 215h1v1h-1zM508 215h1v1h-1zM568 215h1v1h-1zM726 215h1v1h-1zM769 215h1v1h-1zM317 216h1v1h-1zM507 216h1v1h-1zM569 216h1v1h-1zM725 216h1v1h-1zM770 216h2v1h-2zM318 217h1v1h-1zM506 217h1v1h-1zM569 217h1v1h-1zM724 217h1v1h-1zM772 217h2v1h-2zM318 218h1v1h-1zM504 218h2v1h-2zM570 218h1v1h-1zM723 218h1v1h-1zM774 218h3v1h-3zM319 219h1v1h-1zM478 219h18v1h-18zM503 219h1v1h-1zM571 219h1v1h-1zM723 219h1v1h-1zM777 219h1v1h-1zM320 220h1v1h-1zM476 220h2v1h-2zM496 220h7v1h-7zM571 220h1v1h-1zM722 220h1v1h-1zM778 220h1v1h-1zM320 221h1v1h-1zM470 221h6v1h-6zM572 221h1v1h-1zM722 221h1v1h-1zM779 221h1v1h-1zM801 221h1v1h-1zM321 222h1v1h-1zM469 222h1v1h-1zM572 222h1v1h-1zM721 222h1v1h-1zM780 222h2v1h-2zM797 222h4v1h-4zM321 223h1v1h-1zM468 223h1v1h-1zM573 223h1v1h-1zM720 223h1v1h-1zM782 223h1v1h-1zM796 223h1v1h-1zM802 223h2v1h-2zM322 224h1v1h-1zM467 224h1v1h-1zM573 224h1v1h-1zM720 224h1v1h-1zM783 224h3v1h-3zM795 224h1v1h-1zM804 224h2v1h-2zM323 225h1v1h-1zM466 225h1v1h-1zM574 225h1v1h-1zM720 225h1v1h-1zM786 225h9v1h-9zM806 225h2v1h-2zM323 226h1v1h-1zM464 226h2v1h-2zM574 226h1v1h-1zM719 226h1v1h-1zM808 226h1v1h-1zM324 227h1v1h-1zM463 227h1v1h-1zM575 227h1v1h-1zM719 227h1v1h-1zM809 227h2v1h-2zM324 228h1v1h-1zM462 228h1v1h-1zM575 228h1v1h-1zM718 228h1v1h-1zM811 228h1v1h-1zM325 229h1v1h-1zM461 229h1v1h-1zM575 229h1v1h-1zM718 229h1v1h-1zM812 229h1v1h-1zM326 230h1v1h-1zM460 230h1v1h-1zM576 230h1v1h-1zM717 230h1v1h-1zM813 230h2v1h-2zM327 231h1v1h-1zM459 231h1v1h-1zM576 231h1v1h-1zM717 231h1v1h-1zM815 231h1v1h-1zM328 232h18v1h-18zM457 232h2v1h-2zM577 232h1v1h-1zM716 232h1v1h-1zM816 232h1v1h-1zM346 233h3v1h-3zM456 233h1v1h-1zM578 233h1v1h-1zM716 233h1v1h-1zM817 233h1v1h-1zM349 234h3v1h-3zM375 234h8v1h-8zM455 234h1v1h-1zM578 234h1v1h-1zM715 234h1v1h-1zM818 234h1v1h-1zM352 235h23v1h-23zM383 235h3v1h-3zM454 235h1v1h-1zM579 235h1v1h-1zM715 235h1v1h-1zM819 235h2v1h-2zM386 236h1v1h-1zM453 236h1v1h-1zM579 236h1v1h-1zM715 236h1v1h-1zM821 236h2v1h-2zM387 237h1v1h-1zM452 237h1v1h-1zM579 237h1v1h-1zM714 237h1v1h-1zM823 237h2v1h-2zM388 238h1v1h-1zM449 238h3v1h-3zM580 238h1v1h-1zM714 238h1v1h-1zM825 238h2v1h-2zM389 239h1v1h-1zM447 239h2v1h-2zM580 239h1v1h-1zM713 239h1v1h-1zM827 239h1v1h-1zM390 240h1v1h-1zM446 240h1v1h-1zM581 240h1v1h-1zM713 240h1v1h-1zM827 240h1v1h-1zM391 241h1v1h-1zM445 241h1v1h-1zM581 241h1v1h-1zM713 241h1v1h-1zM828 241h1v1h-1zM392 242h1v1h-1zM445 242h1v1h-1zM581 242h1v1h-1zM712 242h1v1h-1zM829 242h1v1h-1zM393 243h1v1h-1zM444 243h1v1h-1zM582 243h1v1h-1zM712 243h1v1h-1zM830 243h1v1h-1zM394 244h2v1h-2zM443 244h1v1h-1zM582 244h1v1h-1zM711 244h1v1h-1zM830 244h1v1h-1zM396 245h1v1h-1zM442 245h1v1h-1zM583 245h1v1h-1zM711 245h1v1h-1zM831 245h1v1h-1zM396 246h1v1h-1zM441 246h1v1h-1zM583 246h1v1h-1zM711 246h1v1h-1zM832 246h2v1h-2zM397 247h1v1h-1zM440 247h1v1h-1zM583 247h1v1h-1zM710 247h1v1h-1zM834 247h1v1h-1zM938 247h5v1h-5zM398 248h1v1h-1zM440 248h1v1h-1zM584 248h1v1h-1zM709 248h1v1h-1zM835 248h1v1h-1zM937 248h1v1h-1zM943 248h1v1h-1zM399 249h1v1h-1zM439 249h1v1h-1zM584 249h1v1h-1zM708 249h1v1h-1zM836 249h1v1h-1zM936 249h1v1h-1zM944 249h2v1h-2zM400 250h1v1h-1zM438 250h1v1h-1zM585 250h1v1h-1zM707 250h1v1h-1zM837 250h1v1h-1zM934 250h2v1h-2zM946 250h3v1h-3zM401 251h1v1h-1zM437 251h1v1h-1zM585 251h1v1h-1zM706 251h1v1h-1zM838 251h1v1h-1zM933 251h1v1h-1zM949 251h4v1h-4zM402 252h1v1h-1zM436 252h1v1h-1zM585 252h1v1h-1zM705 252h1v1h-1zM839 252h2v1h-2zM931 252h2v1h-2zM953 252h4v1h-4zM403 253h1v1h-1zM435 253h1v1h-1zM586 253h1v1h-1zM705 253h1v1h-1zM841 253h1v1h-1zM929 253h2v1h-2zM957 253h2v1h-2zM404 254h2v1h-2zM433 254h2v1h-2zM586 254h1v1h-1zM704 254h1v1h-1zM842 254h1v1h-1zM925 254h4v1h-4zM959 254h2v1h-2zM991 254h1v1h-1zM406 255h1v1h-1zM431 255h2v1h-2zM587 255h1v1h-1zM703 255h1v1h-1zM843 255h1v1h-1zM924 255h1v1h-1zM961 255h2v1h-2zM967 255h11v1h-11zM987 255h4v1h-4zM992 255h5v1h-5zM407 256h1v1h-1zM428 256h3v1h-3zM587 256h1v1h-1zM702 256h1v1h-1zM844 256h1v1h-1zM923 256h1v1h-1zM963 256h4v1h-4zM978 256h9v1h-9zM997 256h2v1h-2zM408 257h2v1h-2zM426 257h2v1h-2zM588 257h1v1h-1zM700 257h2v1h-2zM844 257h1v1h-1zM922 257h1v1h-1zM999 257h9v1h-9zM410 258h1v1h-1zM424 258h2v1h-2zM588 258h1v1h-1zM698 258h2v1h-2zM845 258h1v1h-1zM921 258h1v1h-1zM1008 258h5v1h-5zM411 259h2v1h-2zM422 259h2v1h-2zM588 259h1v1h-1zM697 259h1v1h-1zM846 259h1v1h-1zM920 259h1v1h-1zM1013 259h3v1h-3zM413 260h9v1h-9zM589 260h1v1h-1zM696 260h1v1h-1zM847 260h1v1h-1zM919 260h1v1h-1zM1016 260h4v1h-4zM589 261h1v1h-1zM696 261h1v1h-1zM847 261h1v1h-1zM918 261h1v1h-1zM1020 261h6v1h-6zM1031 261h4v1h-4zM590 262h1v1h-1zM695 262h1v1h-1zM848 262h1v1h-1zM918 262h1v1h-1zM1026 262h5v1h-5zM590 263h1v1h-1zM694 263h1v1h-1zM849 263h1v1h-1zM917 263h1v1h-1zM591 264h1v1h-1zM693 264h1v1h-1zM849 264h1v1h-1zM916 264h1v1h-1zM591 265h1v1h-1zM693 265h1v1h-1zM850 265h1v1h-1zM916 265h1v1h-1zM591 266h1v1h-1zM692 266h1v1h-1zM851 266h1v1h-1zM915 266h1v1h-1zM592 267h1v1h-1zM691 267h1v1h-1zM851 267h1v1h-1zM914 267h1v1h-1zM592 268h1v1h-1zM690 268h1v1h-1zM852 268h1v1h-1zM914 268h1v1h-1zM592 269h1v1h-1zM690 269h1v1h-1zM853 269h1v1h-1zM913 269h1v1h-1zM593 270h1v1h-1zM689 270h1v1h-1zM854 270h1v1h-1zM913 270h1v1h-1zM593 271h1v1h-1zM688 271h1v1h-1zM855 271h1v1h-1zM912 271h1v1h-1zM594 272h1v1h-1zM688 272h1v1h-1zM856 272h1v1h-1zM911 272h1v1h-1zM594 273h1v1h-1zM687 273h1v1h-1zM857 273h1v1h-1zM911 273h1v1h-1zM594 274h1v1h-1zM687 274h1v1h-1zM858 274h1v1h-1zM910 274h1v1h-1zM595 275h1v1h-1zM686 275h1v1h-1zM859 275h2v1h-2zM909 275h1v1h-1zM595 276h1v1h-1zM686 276h1v1h-1zM861 276h1v1h-1zM908 276h1v1h-1zM596 277h1v1h-1zM685 277h1v1h-1zM862 277h2v1h-2zM907 277h1v1h-1zM596 278h1v1h-1zM685 278h1v1h-1zM864 278h2v1h-2zM906 278h1v1h-1zM596 279h1v1h-1zM685 279h1v1h-1zM866 279h2v1h-2zM905 279h1v1h-1zM597 280h1v1h-1zM685 280h1v1h-1zM868 280h2v1h-2zM904 280h1v1h-1zM597 281h1v1h-1zM685 281h1v1h-1zM870 281h2v1h-2zM903 281h1v1h-1zM597 282h1v1h-1zM683 282h2v1h-2zM872 282h2v1h-2zM902 282h1v1h-1zM598 283h1v1h-1zM681 283h2v1h-2zM874 283h1v1h-1zM901 283h1v1h-1zM598 284h1v1h-1zM680 284h1v1h-1zM874 284h1v1h-1zM900 284h1v1h-1zM599 285h1v1h-1zM678 285h2v1h-2zM875 285h1v1h-1zM898 285h2v1h-2zM599 286h1v1h-1zM677 286h1v1h-1zM876 286h1v1h-1zM895 286h3v1h-3zM599 287h1v1h-1zM675 287h2v1h-2zM877 287h1v1h-1zM893 287h2v1h-2zM599 288h1v1h-1zM674 288h1v1h-1zM877 288h1v1h-1zM891 288h2v1h-2zM599 289h1v1h-1zM673 289h1v1h-1zM878 289h2v1h-2zM889 289h2v1h-2zM600 290h1v1h-1zM672 290h1v1h-1zM880 290h1v1h-1zM887 290h2v1h-2zM600 291h1v1h-1zM671 291h1v1h-1zM880 291h1v1h-1zM886 291h1v1h-1zM601 292h1v1h-1zM671 292h1v1h-1zM881 292h1v1h-1zM884 292h2v1h-2zM601 293h1v1h-1zM670 293h1v1h-1zM882 293h2v1h-2zM602 294h1v1h-1zM669 294h1v1h-1zM602 295h1v1h-1zM668 295h1v1h-1zM603 296h1v1h-1zM667 296h1v1h-1zM603 297h1v1h-1zM666 297h1v1h-1zM604 298h1v1h-1zM664 298h2v1h-2zM604 299h1v1h-1zM662 299h2v1h-2zM605 300h1v1h-1zM661 300h1v1h-1zM606 301h1v1h-1zM660 301h1v1h-1zM606 302h1v1h-1zM659 302h1v1h-1zM607 303h1v1h-1zM658 303h1v1h-1zM608 304h1v1h-1zM657 304h1v1h-1zM608 305h1v1h-1zM656 305h1v1h-1zM609 306h1v1h-1zM655 306h1v1h-1zM610 307h1v1h-1zM654 307h1v1h-1zM611 308h1v1h-1zM653 308h1v1h-1zM612 309h1v1h-1zM653 309h1v1h-1zM613 310h1v1h-1zM651 310h2v1h-2zM614 311h1v1h-1zM650 311h1v1h-1zM615 312h1v1h-1zM650 312h1v1h-1zM616 313h2v1h-2zM649 313h1v1h-1zM618 314h2v1h-2zM648 314h1v1h-1zM620 315h1v1h-1zM647 315h1v1h-1zM621 316h1v1h-1zM647 316h1v1h-1zM621 317h1v1h-1zM646 317h1v1h-1zM622 318h1v1h-1zM645 318h1v1h-1zM623 319h1v1h-1zM644 319h1v1h-1zM624 320h1v1h-1zM643 320h1v1h-1zM625 321h1v1h-1zM642 321h1v1h-1zM626 322h1v1h-1zM641 322h1v1h-1zM627 323h1v1h-1zM639 323h2v1h-2zM628 324h2v1h-2zM638 324h1v1h-1zM630 325h1v1h-1zM637 325h1v1h-1zM631 326h2v1h-2zM636 326h1v1h-1zM633 327h1v1h-1zM635 327h1v1h-1zM634 328h1v1h-1z" fill="#ff0000"/>

<rect x="966" y="203" width="203" height="2" fill="#ff0000"/>
<rect x="902" y="258" width="274" height="2" fill="#00ff00"/>
<rect x="932" y="294" width="211" height="2" fill="#0000ff"/>
<rect x="875" y="324" width="161" height="2" fill="#0000ff"/>

<g id="hist">
<rect x="1" y="454" width="3" height="43" fill="#c0c0c0"/>
<rect x="5" y="454" width="3" height="40" fill="#c0c0c0"/>
<rect x="9" y="454" width="3" height="44" fill="#c0c0c0"/>
<rect x="13" y="454" width="3" height="47" fill="#c0c0c0"/>
<rect x="17" y="454" width="3" height="44" fill="#c0c0c0"/>
<rect x="21" y="454" width="3" height="38" fill="#c0c0c0"/>
<rect x="25" y="454" width="3" height="31" fill="#c0c0c0"/>
<rect x="29" y="454" width="3" height="26" fill="#c0c0c0"/>
<rect x="33" y="454" width="3" height="24" fill="#c0c0c0"/>
<rect x="37" y="454" width="3" height="18" fill="#c0c0c0"/>
<rect x="41" y="454" width="3" height="10" fill="#c0c0c0"/>
<rect x="45" y="454" width="3" height="7" fill="#c0c0c0"/>
<rect x="49" y="450" width="3" height="4" fill="#c0c0c0"/>
<rect x="53" y="444" width="3" height="10" fill="#c0c0c0"/>
<rect x="57" y="439" width="3" height="15" fill="#c0c0c0"/>
<rect x="61" y="434" width="3" height="20" fill="#c0c0c0"/>
<rect x="65" y="431" width="3" height="23" fill="#c0c0c0"/>
<rect x="69" y="424" width="3" height="30" fill="#c0c0c0"/>
<rect x="73" y="418" width="3" height="36" fill="#c0c0c0"/>
<rect x="77" y="415" width="3" height="39" fill="#c0c0c0"/>
<rect x="81" y="414" width="3" height="40" fill="#c0c0c0"/>
<rect x="85" y="420" width="3" height="34" fill="#c0c0c0"/>
<rect x="89" y="423" width="3" height="31" fill="#c0c0c0"/>
<rect x="93" y="424" width="3" height="30" fill="#c0c0c0"/>
<rect x="97" y="428" width="3" height="26" fill="#c0c0c0"/>
<rect x="101" y="429" width="3" height="25" fill="#c0c0c0"/>
<rect x="105" y="425" width="3" height="29" fill="#c0c0c0"/>
<rect x="109" y="424" width="3" height="30" fill="#c0c0c0"/>
<rect x="113" y="424" width="3" height="30" fill="#c0c0c0"/>
<rect x="117" y="425" width="3" height="29" fill="#c0c0c0"/>
<rect x="121" y="426" width="3" height="28" fill="#c0c0c0"/>
<rect x="125" y="427" width="3" height="27" fill="#c0c0c0"/>
<rect x="129" y="429" width="3" height="25" fill="#c0c0c0"/>
<rect x="133" y="427" width="3" height="27" fill="#c0c0c0"/>
<rect x="137" y="426" width="3" height="28" fill="#c0c0c0"/>
<rect x="141" y="429" width="3" height="25" fill="#c0c0c0"/>
<rect x="145" y="432" width="3" height="22" fill="#c0c0c0"/>
<rect x="149" y="437" width="3" height="17" fill="#c0c0c0"/>
<rect x="153" y="440" width="3" height="14" fill="#c0c0c0"/>
<rect x="157" y="446" width="3" height="8" fill="#c0c0c0"/>
<rect x="161" y="451" width="3" height="3" fill="#c0c0c0"/>
<rect x="165" y="454" width="3" height="8" fill="#c0c0c0"/>
<rect x="169" y="454" width="3" height="16" fill="#c0c0c0"/>
<rect x="173" y="454" width="3" height="23" fill="#c0c0c0"/>
<rect x="177" y="454" width="3" height="24" fill="#c0c0c0"/>
<rect x="181" y="454" width="3" height="29" fill="#c0c0c0"/>
<rect x="185" y="454" width="3" height="32" fill="#c0c0c0"/>
<rect x="189" y="454" width="3" height="41" fill="#c0c0c0"/>
<rect x="193" y="454" width="3" height="46" fill="#c0c0c0"/>
<rect x="197" y="454" width="3" height="49" fill="#c0c0c0"/>
<rect x="201" y="454" width="3" height="52" fill="#c0c0c0"/>
<rect x="205" y="454" width="3" height="48" fill="#c0c0c0"/>
<rect x="209" y="454" width="3" height="42" fill="#c0c0c0"/>
<rect x="213" y="454" width="3" height="36" fill="#c0c0c0"/>
<rect x="217" y="454" width="3" height="32" fill="#c0c0c0"/>
<rect x="221" y="454" width="3" height="23" fill="#c0c0c0"/>
<rect x="225" y="454" width="3" height="22" fill="#c0c0c0"/>
<rect x="229" y="454" width="3" height="26" fill="#c0c0c0"/>
<rect x="233" y="454" width="3" height="29" fill="#c0c0c0"/>
<rect x="237" y="454" width="3" height="31" fill="#c0c0c0"/>
<rect x="241" y="454" width="3" height="33" fill="#c0c0c0"/>
<rect x="245" y="454" width="3" height="36" fill="#c0c0c0"/>
<rect x="249" y="454" width="3" height="33" fill="#c0c0c0"/>
<rect x="253" y="454" width="3" height="33" fill="#c0c0c0"/>
<rect x="257" y="454" width="3" height="30" fill="#c0c0c0"/>
<rect x="261" y="454" width="3" height="29" fill="#c0c0c0"/>
<rect x="265" y="454" width="3" height="30" fill="#c0c0c0"/>
<rect x="269" y="454" width="3" height="29" fill="#c0c0c0"/>
<rect x="273" y="454" width="3" height="36" fill="#c0c0c0"/>
<rect x="277" y="454" width="3" height="44" fill="#c0c0c0"/>
<rect x="281" y="454" width="3" height="51" fill="#c0c0c0"/>
<rect x="285" y="454" width="3" height="55" fill="#c0c0c0"/>
<rect x="289" y="454" width="3" height="55" fill="#c0c0c0"/>
<rect x="293" y="454" width="3" height="54" fill="#c0c0c0"/>
<rect x="297" y="454" width="3" height="53" fill="#c0c0c0"/>
<rect x="301" y="454" width="3" height="57" fill="#c0c0c0"/>
<rect x="305" y="454" width="3" height="60" fill="#c0c0c0"/>
<rect x="309" y="454" width="3" height="62" fill="#c0c0c0"/>
<rect x="313" y="454" width="3" height="63" fill="#c0c0c0"/>
<rect x="317" y="454" width="3" height="64" fill="#c0c0c0"/>
<rect x="321" y="454" width="3" height="65" fill="#c0c0c0"/>
<rect x="325" y="454" width="3" height="65" fill="#c0c0c0"/>
<rect x="329" y="454" width="3" height="60" fill="#c0c0c0"/>
<rect x="333" y="454" width="3" height="51" fill="#c0c0c0"/>
<rect x="337" y="454" width="3" height="47" fill="#c0c0c0"/>
<rect x="341" y="454" width="3" height="43" fill="#c0c0c0"/>
<rect x="345" y="454" width="3" height="39" fill="#c0c0c0"/>
<rect x="349" y="454" width="3" height="37" fill="#c0c0c0"/>
<rect x="353" y="454" width="3" height="35" fill="#c0c0c0"/>
<rect x="357" y="454" width="3" height="33" fill="#c0c0c0"/>
<rect x="361" y="454" width="3" height="33" fill="#c0c0c0"/>
<rect x="365" y="454" width="3" height="32" fill="#c0c0c0"/>
<rect x="369" y="454" width="3" height="32" fill="#c0c0c0"/>
<rect x="373" y="454" width="3" height="31" fill="#c0c0c0"/>
<rect x="377" y="454" width="3" height="32" fill="#c0c0c0"/>
<rect x="381" y="454" width="3" height="35" fill="#c0c0c0"/>
<rect x="385" y="454" width="3" height="37" fill="#c0c0c0"/>
<rect x="389" y="454" width="3" height="38" fill="#c0c0c0"/>
<rect x="393" y="454" width="3" height="40" fill="#c0c0c0"/>
<rect x="397" y="454" width="3" height="43" fill="#c0c0c0"/>
<rect x="401" y="454" width="3" height="44" fill="#c0c0c0"/>
<rect x="405" y="454" width="3" height="44" fill="#c0c0c0"/>
<rect x="409" y="454" width="3" height="43" fill="#c0c0c0"/>
<rect x="413" y="454" width="3" height="39" fill="#c0c0c0"/>
<rect x="417" y="454" width="3" height="32" fill="#c0c0c0"/>
<rect x="421" y="454" width="3" height="23" fill="#c0c0c0"/>
<rect x="425" y="454" width="3" height="15" fill="#c0c0c0"/>
<rect x="429" y="454" width="3" height="6" fill="#c0c0c0"/>
<rect x="433" y="454" width="3" height="2" fill="#c0c0c0"/>
<rect x="437" y="447" width="3" height="7" fill="#c0c0c0"/>
<rect x="441" y="439" width="3" height="15" fill="#c0c0c0"/>
<rect x="445" y="436" width="3" height="18" fill="#c0c0c0"/>
<rect x="449" y="440" width="3" height="14" fill="#c0c0c0"/>
<rect x="453" y="442" width="3" height="12" fill="#c0c0c0"/>
<rect x="457" y="444" width="3" height="10" fill="#c0c0c0"/>
<rect x="461" y="446" width="3" height="8" fill="#c0c0c0"/>
<rect x="465" y="446" width="3" height="8" fill="#c0c0c0"/>
<rect x="469" y="446" width="3" height="8" fill="#c0c0c0"/>
<rect x="473" y="445" width="3" height="9" fill="#c0c0c0"/>
<rect x="477" y="441" width="3" height="13" fill="#c0c0c0"/>
<rect x="481" y="440" width="3" height="14" fill="#c0c0c0"/>
<rect x="485" y="439" width="3" height="15" fill="#c0c0c0"/>
<rect x="489" y="440" width="3" height="14" fill="#c0c0c0"/>
<rect x="493" y="438" width="3" height="16" fill="#c0c0c0"/>
<rect x="497" y="437" width="3" height="17" fill="#c0c0c0"/>
<rect x="501" y="437" width="3" height="17" fill="#c0c0c0"/>
<rect x="505" y="433" width="3" height="21" fill="#c0c0c0"/>
<rect x="509" y="431" width="3" height="23" fill="#c0c0c0"/>
<rect x="513" y="421" width="3" height="33" fill="#c0c0c0"/>
<rect x="517" y="415" width="3" height="39" fill="#c0c0c0"/>
<rect x="521" y="412" width="3" height="42" fill="#c0c0c0"/>
<rect x="525" y="413" width="3" height="41" fill="#c0c0c0"/>
<rect x="529" y="419" width="3" height="35" fill="#c0c0c0"/>
<rect x="533" y="422" width="3" height="32" fill="#c0c0c0"/>
<rect x="537" y="427" width="3" height="27" fill="#c0c0c0"/>
<rect x="541" y="430" width="3" height="24" fill="#c0c0c0"/>
<rect x="545" y="433" width="3" height="21" fill="#c0c0c0"/>
<rect x="549" y="447" width="3" height="7" fill="#c0c0c0"/>
<rect x="553" y="454" width="3" height="5" fill="#c0c0c0"/>
<rect x="557" y="454" width="3" height="15" fill="#c0c0c0"/>
<rect x="561" y="454" width="3" height="23" fill="#c0c0c0"/>
<rect x="565" y="454" width="3" height="29" fill="#c0c0c0"/>
<rect x="569" y="454" width="3" height="32" fill="#c0c0c0"/>
<rect x="573" y="454" width="3" height="37" fill="#c0c0c0"/>
<rect x="577" y="454" width="3" height="41" fill="#c0c0c0"/>
<rect x="581" y="454" width="3" height="52" fill="#c0c0c0"/>
<rect x="585" y="454" width="3" height="63" fill="#c0c0c0"/>
<rect x="589" y="454" width="3" height="70" fill="#c0c0c0"/>
<rect x="593" y="454" width="3" height="76" fill="#c0c0c0"/>
<rect x="597" y="454" width="3" height="82" fill="#c0c0c0"/>
<rect x="601" y="454" width="3" height="87" fill="#c0c0c0"/>
<rect x="605" y="454" width="3" height="87" fill="#c0c0c0"/>
<rect x="609" y="454" width="3" height="88" fill="#c0c0c0"/>
<rect x="613" y="454" width="3" height="84" fill="#c0c0c0"/>
<rect x="617" y="454" width="3" height="77" fill="#c0c0c0"/>
<rect x="621" y="454" width="3" height="73" fill="#c0c0c0"/>
<rect x="625" y="454" width="3" height="64" fill="#c0c0c0"/>
<rect x="629" y="454" width="3" height="56" fill="#c0c0c0"/>
<rect x="633" y="454" width="3" height="54" fill="#c0c0c0"/>
<rect x="637" y="454" width="3" height="42" fill="#c0c0c0"/>
<rect x="641" y="454" width="3" height="36" fill="#c0c0c0"/>
<rect x="645" y="454" width="3" height="26" fill="#c0c0c0"/>
<rect x="649" y="454" width="3" height="19" fill="#c0c0c0"/>
<rect x="653" y="454" width="3" height="12" fill="#c0c0c0"/>
<rect x="657" y="454" width="3" height="13" fill="#c0c0c0"/>
<rect x="661" y="454" width="3" height="13" fill="#c0c0c0"/>
<rect x="665" y="454" width="3" height="10" fill="#c0c0c0"/>
<rect x="669" y="454" width="3" height="3" fill="#c0c0c0"/>
<rect x="673" y="453" width="3" height="1" fill="#c0c0c0"/>
<rect x="677" y="448" width="3" height="6" fill="#c0c0c0"/>
<rect x="681" y="447" width="3" height="7" fill="#c0c0c0"/>
<rect x="685" y="435" width="3" height="19" fill="#c0c0c0"/>
<rect x="689" y="427" width="3" height="27" fill="#c0c0c0"/>
<rect x="693" y="419" width="3" height="35" fill="#c0c0c0"/>
<rect x="697" y="413" width="3" height="41" fill="#c0c0c0"/>
<rect x="701" y="410" width="3" height="44" fill="#c0c0c0"/>
<rect x="705" y="406" width="3" height="48" fill="#c0c0c0"/>
<rect x="709" y="401" width="3" height="53" fill="#c0c0c0"/>
<rect x="713" y="395" width="3" height="59" fill="#c0c0c0"/>
<rect x="717" y="390" width="3" height="64" fill="#c0c0c0"/>
<rect x="721" y="388" width="3" height="66" fill="#c0c0c0"/>
<rect x="725" y="386" width="3" height="68" fill="#c0c0c0"/>
<rect x="729" y="389" width="3" height="65" fill="#c0c0c0"/>
<rect x="733" y="397" width="3" height="57" fill="#c0c0c0"/>
<rect x="737" y="403" width="3" height="51" fill="#c0c0c0"/>
<rect x="741" y="414" width="3" height="40" fill="#c0c0c0"/>
<rect x="745" y="422" width="3" height="32" fill="#c0c0c0"/>
<rect x="749" y="426" width="3" height="28" fill="#c0c0c0"/>
<rect x="753" y="432" width="3" height="22" fill="#c0c0c0"/>
<rect x="757" y="434" width="3" height="20" fill="#c0c0c0"/>
<rect x="761" y="436" width="3" height="18" fill="#c0c0c0"/>
<rect x="765" y="439" width="3" height="15" fill="#c0c0c0"/>
<rect x="769" y="440" width="3" height="14" fill="#c0c0c0"/>
<rect x="773" y="439" width="3" height="15" fill="#c0c0c0"/>
<rect x="777" y="437" width="3" height="17" fill="#c0c0c0"/>
<rect x="781" y="438" width="3" height="16" fill="#c0c0c0"/>
<rect x="785" y="438" width="3" height="16" fill="#c0c0c0"/>
<rect x="789" y="439" width="3" height="15" fill="#c0c0c0"/>
<rect x="793" y="439" width="3" height="15" fill="#c0c0c0"/>
<rect x="797" y="439" width="3" height="15" fill="#c0c0c0"/>
<rect x="801" y="448" width="3" height="6" fill="#c0c0c0"/>
<rect x="805" y="454" width="3" height="3" fill="#c0c0c0"/>
<rect x="809" y="454" width="3" height="10" fill="#c0c0c0"/>
<rect x="813" y="454" width="3" height="17" fill="#c0c0c0"/>
<rect x="817" y="454" width="3" height="23" fill="#c0c0c0"/>
<rect x="821" y="454" width="3" height="23" fill="#c0c0c0"/>
<rect x="825" y="454" width="3" height="21" fill="#c0c0c0"/>
<rect x="829" y="454" width="3" height="22" fill="#c0c0c0"/>
<rect x="833" y="454" width="3" height="24" fill="#c0c0c0"/>
<rect x="837" y="454" width="3" height="27" fill="#c0c0c0"/>
<rect x="841" y="454" width="3" height="28" fill="#c0c0c0"/>
<rect x="845" y="454" width="3" height="30" fill="#c0c0c0"/>
<rect x="849" y="454" width="3" height="32" fill="#c0c0c0"/>
<rect x="853" y="454" width="3" height="37" fill="#c0c0c0"/>
<rect x="857" y="454" width="3" height="42" fill="#c0c0c0"/>
<rect x="861" y="454" width="3" height="44" fill="#c0c0c0"/>
<rect x="865" y="454" width="3" height="45" fill="#c0c0c0"/>
<rect x="869" y="454" width="3" height="45" fill="#c0c0c0"/>
<rect x="873" y="454" width="3" height="46" fill="#c0c0c0"/>
<rect x="877" y="454" width="3" height="48" fill="#c0c0c0"/>
<rect x="881" y="454" width="3" height="50" fill="#c0c0c0"/>
<rect x="885" y="454" width="3" height="34" fill="#c0c0c0"/>
<rect x="889" y="454" width="3" height="23" fill="#c0c0c0"/>
<rect x="893" y="454" width="3" height="12" fill="#c0c0c0"/>
<rect x="897" y="454" width="3" height="8" fill="#c0c0c0"/>
<rect x="901" y="453" width="3" height="1" fill="#c0c0c0"/>
<rect x="905" y="446" width="3" height="8" fill="#c0c0c0"/>
<rect x="909" y="440" width="3" height="14" fill="#c0c0c0"/>
<rect x="913" y="434" width="3" height="20" fill="#c0c0c0"/>
<rect x="917" y="431" width="3" height="23" fill="#c0c0c0"/>
<rect x="921" y="432" width="3" height="22" fill="#c0c0c0"/>
<rect x="925" y="438" width="3" height="16" fill="#c0c0c0"/>
<rect x="929" y="446" width="3" height="8" fill="#c0c0c0"/>
<rect x="933" y="454" width="3" height="1" fill="#c0c0c0"/>
<rect x="937" y="453" width="3" height="1" fill="#c0c0c0"/>
<rect x="941" y="451" width="3" height="3" fill="#c0c0c0"/>
<rect x="945" y="453" width="3" height="1" fill="#c0c0c0"/>
<rect x="949" y="454" width="3" height="1" fill="#c0c0c0"/>
<rect x="953" y="454" width="3" height="1" fill="#c0c0c0"/>
<rect x="957" y="454" width="3" height="2" fill="#c0c0c0"/>
<rect x="961" y="453" width="3" height="1" fill="#c0c0c0"/>
<rect x="965" y="447" width="3" height="7" fill="#c0c0c0"/>
<rect x="969" y="439" width="3" height="15" fill="#c0c0c0"/>
<rect x="973" y="437" width="3" height="17" fill="#c0c0c0"/>
<rect x="977" y="441" width="3" height="13" fill="#c0c0c0"/>
<rect x="981" y="445" width="3" height="9" fill="#c0c0c0"/>
<rect x="985" y="451" width="3" height="3" fill="#c0c0c0"/>
<rect x="989" y="454" width="3" height="2" fill="#c0c0c0"/>
<rect x="993" y="454" width="3" height="3" fill="#c0c0c0"/>
<rect x="997" y="454" width="3" height="8" fill="#c0c0c0"/>
<rect x="1001" y="454" width="3" height="8" fill="#c0c0c0"/>
<rect x="1005" y="454" width="3" height="8" fill="#c0c0c0"/>
<rect x="1009" y="454" width="3" height="8" fill="#c0c0c0"/>
<rect x="1013" y="454" width="3" height="9" fill="#c0c0c0"/>
<rect x="1017" y="454" width="3" height="11" fill="#c0c0c0"/>
<rect x="1021" y="454" width="3" height="1" fill="#c0c0c0"/>
<rect x="1025" y="449" width="3" height="5" fill="#c0c0c0"/>
<rect x="1029" y="447" width="3" height="7" fill="#c0c0c0"/>
<rect x="1033" y="444" width="3" height="10" fill="#c0c0c0"/>
</g>
<path d="M735 395h7v1h-7zM733 396h2v1h-2zM742 396h2v1h-2zM731 397h2v1h-2zM744 397h2v1h-2zM730 398h1v1h-1zM746 398h1v1h-1zM728 399h2v1h-2zM747 399h1v1h-1zM727 400h1v1h-1zM748 400h1v1h-1zM726 401h1v1h-1zM749 401h1v1h-1zM725 402h1v1h-1zM750 402h1v1h-1zM724 403h1v1h-1zM751 403h1v1h-1zM723 404h1v1h-1zM752 404h1v1h-1zM722 405h1v1h-1zM753 405h1v1h-1zM721 406h1v1h-1zM754 406h1v1h-1zM721 407h1v1h-1zM755 407h1v1h-1zM720 408h1v1h-1zM755 408h1v1h-1zM719 409h1v1h-1zM756 409h1v1h-1zM719 410h1v1h-1zM757 410h1v1h-1zM718 411h1v1h-1zM757 411h1v1h-1zM717 412h1v1h-1zM758 412h1v1h-1zM717 413h1v1h-1zM759 413h1v1h-1zM716 414h1v1h-1zM760 414h1v1h-1zM715 415h1v1h-1zM761 415h1v1h-1zM715 416h1v1h-1zM761 416h1v1h-1zM714 417h1v1h-1zM762 417h1v1h-1zM713 418h1v1h-1zM763 418h1v1h-1zM713 419h1v1h-1zM763 419h1v1h-1zM712 420h1v1h-1zM764 420h1v1h-1zM540 421h7v1h-7zM712 421h1v1h-1zM765 421h1v1h-1zM92 422h21v1h-21zM536 422h4v1h-4zM547 422h1v1h-1zM711 422h1v1h-1zM765 422h1v1h-1zM90 423h2v1h-2zM113 423h4v1h-4zM533 423h3v1h-3zM548 423h2v1h-2zM710 423h1v1h-1zM766 423h1v1h-1zM88 424h2v1h-2zM117 424h5v1h-5zM530 424h3v1h-3zM550 424h1v1h-1zM710 424h1v1h-1zM767 424h1v1h-1zM87 425h1v1h-1zM122 425h7v1h-7zM134 425h7v1h-7zM528 425h2v1h-2zM551 425h1v1h-1zM709 425h1v1h-1zM768 425h1v1h-1zM86 426h1v1h-1zM129 426h5v1h-5zM141 426h4v1h-4zM526 426h2v1h-2zM552 426h1v1h-1zM708 426h1v1h-1zM769 426h1v1h-1zM85 427h1v1h-1zM145 427h5v1h-5zM525 427h1v1h-1zM552 427h1v1h-1zM707 427h1v1h-1zM770 427h1v1h-1zM83 428h2v1h-2zM150 428h2v1h-2zM523 428h2v1h-2zM553 428h1v1h-1zM706 428h1v1h-1zM771 428h1v1h-1zM82 429h1v1h-1zM152 429h1v1h-1zM521 429h2v1h-2zM554 429h1v1h-1zM706 429h1v1h-1zM772 429h2v1h-2zM81 430h1v1h-1zM153 430h2v1h-2zM520 430h1v1h-1zM555 430h1v1h-1zM705 430h1v1h-1zM774 430h1v1h-1zM80 431h1v1h-1zM155 431h2v1h-2zM518 431h2v1h-2zM556 431h1v1h-1zM704 431h1v1h-1zM775 431h1v1h-1zM80 432h1v1h-1zM157 432h2v1h-2zM517 432h1v1h-1zM556 432h1v1h-1zM703 432h1v1h-1zM776 432h1v1h-1zM79 433h1v1h-1zM159 433h1v1h-1zM516 433h1v1h-1zM557 433h1v1h-1zM703 433h1v1h-1zM777 433h2v1h-2zM78 434h1v1h-1zM160 434h2v1h-2zM515 434h1v1h-1zM558 434h1v1h-1zM702 434h1v1h-1zM779 434h2v1h-2zM77 435h1v1h-1zM162 435h1v1h-1zM513 435h2v1h-2zM558 435h1v1h-1zM701 435h1v1h-1zM781 435h2v1h-2zM76 436h1v1h-1zM163 436h1v1h-1zM511 436h2v1h-2zM559 436h1v1h-1zM701 436h1v1h-1zM783 436h3v1h-3zM76 437h1v1h-1zM164 437h1v1h-1zM509 437h2v1h-2zM559 437h1v1h-1zM700 437h1v1h-1zM786 437h3v1h-3zM75 438h1v1h-1zM165 438h1v1h-1zM507 438h2v1h-2zM560 438h1v1h-1zM699 438h1v1h-1zM789 438h13v1h-13zM74 439h1v1h-1zM166 439h1v1h-1zM503 439h4v1h-4zM560 439h1v1h-1zM699 439h1v1h-1zM802 439h2v1h-2zM73 440h1v1h-1zM167 440h1v1h-1zM501 440h2v1h-2zM561 440h1v1h-1zM698 440h1v1h-1zM804 440h1v1h-1zM73 441h1v1h-1zM168 441h1v1h-1zM497 441h4v1h-4zM562 441h1v1h-1zM697 441h1v1h-1zM805 441h2v1h-2zM72 442h1v1h-1zM169 442h1v1h-1zM473 442h3v1h-3zM493 442h4v1h-4zM562 442h1v1h-1zM697 442h1v1h-1zM807 442h1v1h-1zM929 442h15v1h-15zM71 443h1v1h-1zM170 443h1v1h-1zM468 443h5v1h-5zM476 443h17v1h-17zM563 443h1v1h-1zM696 443h1v1h-1zM808 443h1v1h-1zM928 443h1v1h-1zM944 443h2v1h-2zM70 444h1v1h-1zM171 444h1v1h-1zM465 444h3v1h-3zM563 444h1v1h-1zM695 444h1v1h-1zM809 444h1v1h-1zM927 444h1v1h-1zM946 444h2v1h-2zM69 445h1v1h-1zM172 445h1v1h-1zM463 445h2v1h-2zM564 445h1v1h-1zM694 445h1v1h-1zM810 445h1v1h-1zM925 445h2v1h-2zM948 445h1v1h-1zM69 446h1v1h-1zM172 446h1v1h-1zM460 446h3v1h-3zM564 446h1v1h-1zM694 446h1v1h-1zM811 446h1v1h-1zM924 446h1v1h-1zM949 446h2v1h-2zM68 447h1v1h-1zM173 447h1v1h-1zM459 447h1v1h-1zM565 447h1v1h-1zM693 447h1v1h-1zM812 447h1v1h-1zM923 447h1v1h-1zM951 447h2v1h-2zM980 447h17v1h-17zM67 448h1v1h-1zM174 448h1v1h-1zM458 448h1v1h-1zM565 448h1v1h-1zM692 448h1v1h-1zM813 448h1v1h-1zM922 448h1v1h-1zM953 448h2v1h-2zM976 448h4v1h-4zM997 448h4v1h-4zM67 449h1v1h-1zM174 449h1v1h-1zM457 449h1v1h-1zM566 449h1v1h-1zM691 449h1v1h-1zM814 449h1v1h-1zM921 449h1v1h-1zM955 449h1v1h-1zM973 449h3v1h-3zM1001 449h2v1h-2zM66 450h1v1h-1zM175 450h1v1h-1zM456 450h1v1h-1zM567 450h1v1h-1zM690 450h1v1h-1zM815 450h1v1h-1zM921 450h1v1h-1zM956 450h2v1h-2zM971 450h2v1h-2zM1003 450h2v1h-2zM66 451h1v1h-1zM176 451h1v1h-1zM455 451h1v1h-1zM567 451h1v1h-1zM690 451h1v1h-1zM816 451h1v1h-1zM920 451h1v1h-1zM958 451h1v1h-1zM969 451h2v1h-2zM1005 451h1v1h-1zM65 452h1v1h-1zM176 452h1v1h-1zM454 452h1v1h-1zM568 452h1v1h-1zM689 452h1v1h-1zM817 452h1v1h-1zM920 452h1v1h-1zM959 452h10v1h-10zM1006 452h2v1h-2zM64 453h1v1h-1zM177 453h1v1h-1zM453 453h1v1h-1zM568 453h1v1h-1zM688 453h1v1h-1zM818 453h1v1h-1zM919 453h1v1h-1zM1008 453h1v1h-1zM63 454h1v1h-1zM178 454h1v1h-1zM452 454h1v1h-1zM569 454h1v1h-1zM687 454h1v1h-1zM819 454h2v1h-2zM918 454h1v1h-1zM1009 454h2v1h-2zM63 455h1v1h-1zM178 455h1v1h-1zM451 455h1v1h-1zM569 455h1v1h-1zM686 455h1v1h-1zM821 455h1v1h-1zM918 455h1v1h-1zM1011 455h2v1h-2zM62 456h1v1h-1zM179 456h1v1h-1zM451 456h1v1h-1zM570 456h1v1h-1zM685 456h1v1h-1zM822 456h1v1h-1zM917 456h1v1h-1zM1013 456h1v1h-1zM1032 456h2v1h-2zM62 457h1v1h-1zM180 457h1v1h-1zM450 457h1v1h-1zM571 457h1v1h-1zM684 457h1v1h-1zM823 457h1v1h-1zM917 457h1v1h-1zM1014 457h2v1h-2zM1031 457h1v1h-1zM61 458h1v1h-1zM181 458h1v1h-1zM449 458h1v1h-1zM571 458h1v1h-1zM683 458h1v1h-1zM824 458h1v1h-1zM916 458h1v1h-1zM1016 458h2v1h-2zM1029 458h2v1h-2zM60 459h1v1h-1zM182 459h1v1h-1zM448 459h1v1h-1zM572 459h1v1h-1zM682 459h1v1h-1zM825 459h1v1h-1zM916 459h1v1h-1zM1018 459h11v1h-11zM59 460h1v1h-1zM182 460h1v1h-1zM448 460h1v1h-1zM572 460h1v1h-1zM682 460h1v1h-1zM826 460h1v1h-1zM915 460h1v1h-1zM59 461h1v1h-1zM183 461h1v1h-1zM447 461h1v1h-1zM573 461h1v1h-1zM681 461h1v1h-1zM827 461h1v1h-1zM915 461h1v1h-1zM58 462h1v1h-1zM183 462h1v1h-1zM446 462h1v1h-1zM574 462h1v1h-1zM679 462h2v1h-2zM828 462h1v1h-1zM915 462h1v1h-1zM57 463h1v1h-1zM184 463h1v1h-1zM446 463h1v1h-1zM575 463h1v1h-1zM678 463h1v1h-1zM829 463h1v1h-1zM914 463h1v1h-1zM57 464h1v1h-1zM185 464h1v1h-1zM445 464h1v1h-1zM576 464h1v1h-1zM677 464h1v1h-1zM830 464h1v1h-1zM914 464h1v1h-1zM56 465h1v1h-1zM185 465h1v1h-1zM445 465h1v1h-1zM576 465h1v1h-1zM675 465h2v1h-2zM831 465h1v1h-1zM913 465h1v1h-1zM56 466h1v1h-1zM186 466h1v1h-1zM444 466h1v1h-1zM576 466h1v1h-1zM674 466h1v1h-1zM831 466h1v1h-1zM913 466h1v1h-1zM55 467h1v1h-1zM187 467h1v1h-1zM443 467h1v1h-1zM577 467h1v1h-1zM673 467h1v1h-1zM832 467h1v1h-1zM912 467h1v1h-1zM54 468h1v1h-1zM187 468h1v1h-1zM443 468h1v1h-1zM577 468h1v1h-1zM673 468h1v1h-1zM833 468h1v1h-1zM911 468h1v1h-1zM54 469h1v1h-1zM188 469h1v1h-1zM442 469h1v1h-1zM578 469h1v1h-1zM672 469h1v1h-1zM834 469h2v1h-2zM911 469h1v1h-1zM53 470h1v1h-1zM189 470h1v1h-1zM441 470h1v1h-1zM578 470h1v1h-1zM671 470h1v1h-1zM836 470h1v1h-1zM910 470h1v1h-1zM52 471h1v1h-1zM190 471h1v1h-1zM441 471h1v1h-1zM579 471h1v1h-1zM670 471h1v1h-1zM837 471h1v1h-1zM910 471h1v1h-1zM51 472h1v1h-1zM191 472h1v1h-1zM440 472h1v1h-1zM579 472h1v1h-1zM670 472h1v1h-1zM838 472h1v1h-1zM909 472h1v1h-1zM51 473h1v1h-1zM191 473h1v1h-1zM439 473h1v1h-1zM580 473h1v1h-1zM669 473h1v1h-1zM839 473h1v1h-1zM909 473h1v1h-1zM50 474h1v1h-1zM192 474h1v1h-1zM439 474h1v1h-1zM580 474h1v1h-1zM668 474h1v1h-1zM840 474h1v1h-1zM908 474h1v1h-1zM49 475h1v1h-1zM193 475h1v1h-1zM438 475h1v1h-1zM581 475h1v1h-1zM668 475h1v1h-1zM841 475h2v1h-2zM907 475h1v1h-1zM49 476h1v1h-1zM193 476h1v1h-1zM437 476h1v1h-1zM581 476h1v1h-1zM667 476h1v1h-1zM843 476h2v1h-2zM907 476h1v1h-1zM48 477h1v1h-1zM194 477h1v1h-1zM437 477h1v1h-1zM582 477h1v1h-1zM666 477h1v1h-1zM845 477h3v1h-3zM906 477h1v1h-1zM47 478h1v1h-1zM194 478h1v1h-1zM436 478h1v1h-1zM582 478h1v1h-1zM666 478h1v1h-1zM848 478h2v1h-2zM905 478h1v1h-1zM46 479h1v1h-1zM195 479h1v1h-1zM435 479h1v1h-1zM583 479h1v1h-1zM665 479h1v1h-1zM850 479h3v1h-3zM905 479h1v1h-1zM46 480h1v1h-1zM196 480h1v1h-1zM435 480h1v1h-1zM584 480h1v1h-1zM664 480h1v1h-1zM853 480h3v1h-3zM904 480h1v1h-1zM45 481h1v1h-1zM196 481h1v1h-1zM434 481h1v1h-1zM584 481h1v1h-1zM663 481h1v1h-1zM856 481h2v1h-2zM903 481h1v1h-1zM44 482h1v1h-1zM197 482h1v1h-1zM246 482h8v1h-8zM433 482h1v1h-1zM585 482h1v1h-1zM663 482h1v1h-1zM858 482h1v1h-1zM903 482h1v1h-1zM43 483h1v1h-1zM198 483h1v1h-1zM241 483h5v1h-5zM254 483h7v1h-7zM432 483h1v1h-1zM585 483h1v1h-1zM662 483h1v1h-1zM859 483h2v1h-2zM902 483h1v1h-1zM42 484h1v1h-1zM198 484h1v1h-1zM239 484h2v1h-2zM261 484h5v1h-5zM431 484h1v1h-1zM586 484h1v1h-1zM661 484h1v1h-1zM861 484h1v1h-1zM901 484h1v1h-1zM41 485h1v1h-1zM199 485h1v1h-1zM237 485h2v1h-2zM266 485h12v1h-12zM430 485h1v1h-1zM586 485h1v1h-1zM661 485h1v1h-1zM862 485h2v1h-2zM900 485h1v1h-1zM40 486h1v1h-1zM200 486h1v1h-1zM236 486h1v1h-1zM278 486h2v1h-2zM380 486h9v1h-9zM429 486h1v1h-1zM587 486h1v1h-1zM660 486h1v1h-1zM864 486h1v1h-1zM899 486h1v1h-1zM39 487h1v1h-1zM201 487h1v1h-1zM234 487h2v1h-2zM280 487h1v1h-1zM376 487h4v1h-4zM389 487h8v1h-8zM428 487h1v1h-1zM588 487h1v1h-1zM659 487h1v1h-1zM865 487h2v1h-2zM899 487h1v1h-1zM37 488h2v1h-2zM202 488h1v1h-1zM233 488h1v1h-1zM281 488h2v1h-2zM373 488h3v1h-3zM397 488h2v1h-2zM427 488h1v1h-1zM588 488h1v1h-1zM659 488h1v1h-1zM867 488h2v1h-2zM898 488h1v1h-1zM35 489h2v1h-2zM203 489h1v1h-1zM231 489h2v1h-2zM283 489h2v1h-2zM370 489h3v1h-3zM399 489h2v1h-2zM425 489h2v1h-2zM589 489h1v1h-1zM658 489h1v1h-1zM869 489h1v1h-1zM896 489h2v1h-2zM33 490h2v1h-2zM204 490h1v1h-1zM229 490h2v1h-2zM285 490h1v1h-1zM369 490h1v1h-1zM401 490h4v1h-4zM423 490h2v1h-2zM589 490h1v1h-1zM657 490h1v1h-1zM870 490h2v1h-2zM895 490h1v1h-1zM32 491h1v1h-1zM205 491h2v1h-2zM227 491h2v1h-2zM286 491h2v1h-2zM367 491h2v1h-2zM405 491h4v1h-4zM421 491h2v1h-2zM590 491h1v1h-1zM656 491h1v1h-1zM872 491h2v1h-2zM894 491h1v1h-1zM30 492h2v1h-2zM207 492h2v1h-2zM225 492h2v1h-2zM288 492h1v1h-1zM365 492h2v1h-2zM409 492h4v1h-4zM419 492h2v1h-2zM590 492h1v1h-1zM656 492h1v1h-1zM874 492h2v1h-2zM893 492h1v1h-1zM28 493h2v1h-2zM209 493h2v1h-2zM223 493h2v1h-2zM289 493h2v1h-2zM364 493h1v1h-1zM413 493h6v1h-6zM591 493h1v1h-1zM655 493h1v1h-1zM876 493h2v1h-2zM892 493h1v1h-1zM27 494h1v1h-1zM211 494h3v1h-3zM220 494h3v1h-3zM291 494h1v1h-1zM364 494h1v1h-1zM591 494h1v1h-1zM654 494h1v1h-1zM878 494h1v1h-1zM890 494h2v1h-2zM25 495h2v1h-2zM214 495h6v1h-6zM292 495h2v1h-2zM363 495h1v1h-1zM592 495h1v1h-1zM654 495h1v1h-1zM879 495h2v1h-2zM888 495h2v1h-2zM23 496h2v1h-2zM294 496h2v1h-2zM361 496h2v1h-2zM592 496h1v1h-1zM653 496h1v1h-1zM881 496h7v1h-7zM2 497h15v1h-15zM21 497h2v1h-2zM296 497h2v1h-2zM360 497h1v1h-1zM593 497h1v1h-1zM653 497h1v1h-1zM1 498h1v1h-1zM17 498h4v1h-4zM298 498h2v1h-2zM359 498h1v1h-1zM593 498h1v1h-1zM652 498h1v1h-1zM300 499h1v1h-1zM358 499h1v1h-1zM594 499h1v1h-1zM652 499h1v1h-1zM301 500h1v1h-1zM356 500h2v1h-2zM594 500h1v1h-1zM651 500h1v1h-1zM302 501h1v1h-1zM355 501h1v1h-1zM595 501h1v1h-1zM651 501h1v1h-1zM303 502h2v1h-2zM354 502h1v1h-1zM596 502h1v1h-1zM650 502h1v1h-1zM305 503h1v1h-1zM352 503h2v1h-2zM597 503h1v1h-1zM650 503h1v1h-1zM306 504h1v1h-1zM351 504h1v1h-1zM597 504h1v1h-1zM649 504h1v1h-1zM307 505h1v1h-1zM351 505h1v1h-1zM598 505h1v1h-1zM649 505h1v1h-1zM308 506h2v1h-2zM349 506h2v1h-2zM598 506h1v1h-1zM648 506h1v1h-1zM310 507h1v1h-1zM348 507h1v1h-1zM599 507h1v1h-1zM648 507h1v1h-1zM311 508h1v1h-1zM347 508h1v1h-1zM599 508h1v1h-1zM647 508h1v1h-1zM312 509h3v1h-3zM345 509h2v1h-2zM600 509h1v1h-1zM647 509h1v1h-1zM315 510h3v1h-3zM343 510h2v1h-2zM601 510h1v1h-1zM646 510h1v1h-1zM318 511h5v1h-5zM342 511h1v1h-1zM601 511h1v1h-1zM646 511h1v1h-1zM323 512h3v1h-3zM340 512h2v1h-2zM602 512h1v1h-1zM645 512h1v1h-1zM326 513h4v1h-4zM336 513h4v1h-4zM603 513h1v1h-1zM645 513h1v1h-1zM330 514h6v1h-6zM603 514h1v1h-1zM644 514h1v1h-1zM604 515h1v1h-1zM643 515h1v1h-1zM605 516h1v1h-1zM643 516h1v1h-1zM605 517h1v1h-1zM642 517h1v1h-1zM606 518h1v1h-1zM641 518h1v1h-1zM606 519h1v1h-1zM640 519h1v1h-1zM607 520h1v1h-1zM640 520h1v1h-1zM608 521h1v1h-1zM639 521h1v1h-1zM608 522h1v1h-1zM638 522h1v1h-1zM609 523h1v1h-1zM637 523h1v1h-1zM609 524h1v1h-1zM637 524h1v1h-1zM610 525h1v1h-1zM636 525h1v1h-1zM611 526h1v1h-1zM635 526h1v1h-1zM612 527h1v1h-1zM634 527h1v1h-1zM613 528h1v1h-1zM633 528h1v1h-1zM613 529h1v1h-1zM632 529h1v1h-1zM614 530h2v1h-2zM631 530h1v1h-1zM616 531h2v1h-2zM629 531h2v1h-2zM618 532h2v1h-2zM626 532h3v1h-3zM620 533h6v1h-6z" fill="#ff0000"/>
</svg>
<div id="chart"></div><div id="macd"></div><div id="axis"></div>
<div class="tt" style="left:2px"></div><div class="tl" style="left:1px">9 Oct 2018</div>
<div class="tt" style="left:66px"></div><div class="tl" style="left:65px">11 Oct 22:00</div>
<div class="tt" style="left:130px"></div><div class="tl" style="left:129px">16 Oct 14:00</div>
<div class="tt" style="left:194px"></div><div class="tl" style="left:193px">19 Oct 04:00</div>
<div class="tt" style="left:258px"></div><div class="tl" style="left:257px">23 Oct 22:00</div>
<div class="tt" style="left:322px"></div><div class="tl" style="left:321px">26 Oct 14:00</div>
<div class="tt" style="left:386px"></div><div class="tl" style="left:385px">31 Oct 04:00</div>
<div class="tt" style="left:450px"></div><div class="tl" style="left:449px">2 Nov 22:00</div>
<div class="tt" style="left:514px"></div><div class="tl" style="left:513px">7 Nov 15:00</div>
<div class="tt" style="left:578px"></div><div class="tl" style="left:577px">12 Nov 07:00</div>
<div class="tt" style="left:642px"></div><div class="tl" style="left:641px">14 Nov 23:00</div>
<div class="tt" style="left:706px"></div><div class="tl" style="left:705px">19 Nov 15:00</div>
<div class="tt" style="left:770px"></div><div class="tl" style="left:769px">22 Nov 04:00</div>
<div class="tt" style="left:834px"></div><div class="tl" style="left:833px">26 Nov 23:00</div>
<div class="tt" style="left:898px"></div><div class="tl" style="left:897px">29 Nov 15:00</div>
<div class="tt" style="left:962px"></div><div class="tl" style="left:961px">4 Dec 04:00</div>
<div class="tt" style="left:1026px"></div><div class="tl" style="left:1025px">6 Dec 23:00</div>
<div class="pt" style="top:42px"></div><div class="pl" style="top:38px">1.16250</div>
<div class="pt" style="top:75px"></div><div class="pl" style="top:71px">1.15830</div>
<div class="pt" style="top:108px"></div><div class="pl" style="top:104px">1.15410</div>
<div class="pt" style="top:141px"></div><div class="pl" style="top:137px">1.15000</div>
<div class="pt" style="top:174px"></div><div class="pl" style="top:170px">1.14580</div>
<div class="pt" style="top:207px"></div><div class="pl" style="top:203px">1.14160</div>
<div class="pt" style="top:273px"></div><div class="pl" style="top:269px">1.13320</div>
<div class="pt" style="top:306px"></div><div class="pl" style="top:302px">1.12910</div>
<div class="pt" style="top:339px"></div><div class="pl" style="top:335px">1.12490</div>
<div class="pt" style="top:372px"></div><div class="pl" style="top:368px">1.12070</div>
<div class="pt" style="top:240px"></div>
<div id="cur">1.13749</div>
<div class="pt" style="top:379px;width:1px"></div><div class="pl" style="left:1309px;top:380px;letter-spacing:-0.5px">0.003847</div>
<div class="pt" style="top:454px;width:1px"></div><div class="pl" style="left:1309px;top:450px">0.00</div>
<div class="pl" style="left:1309px;top:538px;width:38.5px;overflow:hidden;letter-spacing:-0.5px">-0.004856</div>
<svg width="20" height="10" style="left:4px;top:33px"><path d="M1 5.9 L8 5.9 L4.5 2.2 Z" fill="#000"/></svg>
<div id="hdr">EURUSD,H4  1.13727 1.13828 1.13667 1.13749</div>
<div id="mh">MACD(12,26,9) 0.000479 -0.000118</div>

<!-- trade panel -->
<div class="pw" style="left:4px;top:47px;width:221px;height:67px"></div>
<div id="sellb"></div><div id="buyb"></div>
<div id="sellt"></div><div id="buyt"></div>
<div class="pw" style="left:57px;top:48px;width:115px;height:24px"></div>
<div class="ul" style="left:9px;width:44px"></div><div class="ul" style="left:176px;width:44px"></div>
<div class="btxt" style="left:17px;top:53px;letter-spacing:-1px">SELL</div>
<div class="btxt" style="left:185px;top:53px;letter-spacing:-0.5px">BUY</div>
<div id="spin"></div>
<div class="sb" style="left:60px"></div><div class="sb" style="left:149px"></div>
<svg width="8" height="5" style="left:67px;top:57px"><path d="M0 0 L5 0 L2.5 3 Z" fill="#5060c0"/></svg>
<svg width="8" height="5" style="left:156px;top:57px"><path d="M0 3.5 L5 3.5 L2.5 0.5 Z" fill="#5060c0"/></svg>
<div style="left:99px;top:51px;width:46px;height:16px;line-height:16px;font-size:12px;letter-spacing:0;text-rendering:auto;text-align:right">3.00</div>
<div class="sm" style="left:25px;top:93px">1.13</div><div class="big" style="left:52px;top:73px">74</div><div class="sup" style="left:92px;top:77px">9</div>
<div class="sm" style="left:135px;top:93px">1.13</div><div class="big" style="left:163px;top:73px;transform:scaleX(0.975)">76</div><div class="sup" style="left:203px;top:77px">9</div>

<!-- tabs -->
<div id="tabs"></div><div id="tabtop"></div><div id="tabbg"></div><div id="tabline"></div><div id="atab"></div><div style="left:0;top:572px;width:4px;height:1px;background:#000"></div><div style="left:95px;top:573px;width:1px;height:18px;background:#c8c8c8"></div>
<div class="tab" style="left:15px;color:#000;font-size:11.8px">EURUSD,H4</div>
<div class="tab" style="left:105px">USDCHF,H4</div><div class="tsep" style="left:183px"></div>
<div class="tab" style="left:194px">USDCAD,H4</div><div class="tsep" style="left:275px"></div>
<div class="tab" style="left:286px">AUDUSD,H4</div><div class="tsep" style="left:367px"></div>
<div class="tab" style="left:377px">USDCNH,H4</div><div class="tsep" style="left:459px"></div>
<div class="tab" style="left:469px">USDJPY,H1</div><div class="tsep" style="left:543px"></div>
<svg width="30" height="12" style="left:1316px;top:575px"><path d="M5.5 2.5 L5.5 9.5 L1.8 6 Z" fill="#a0a0a0"/><path d="M20.7 2.5 L20.7 9.5 L24.4 6 Z" fill="#a0a0a0"/></svg>
<div id="bot"></div>
</body></html>
